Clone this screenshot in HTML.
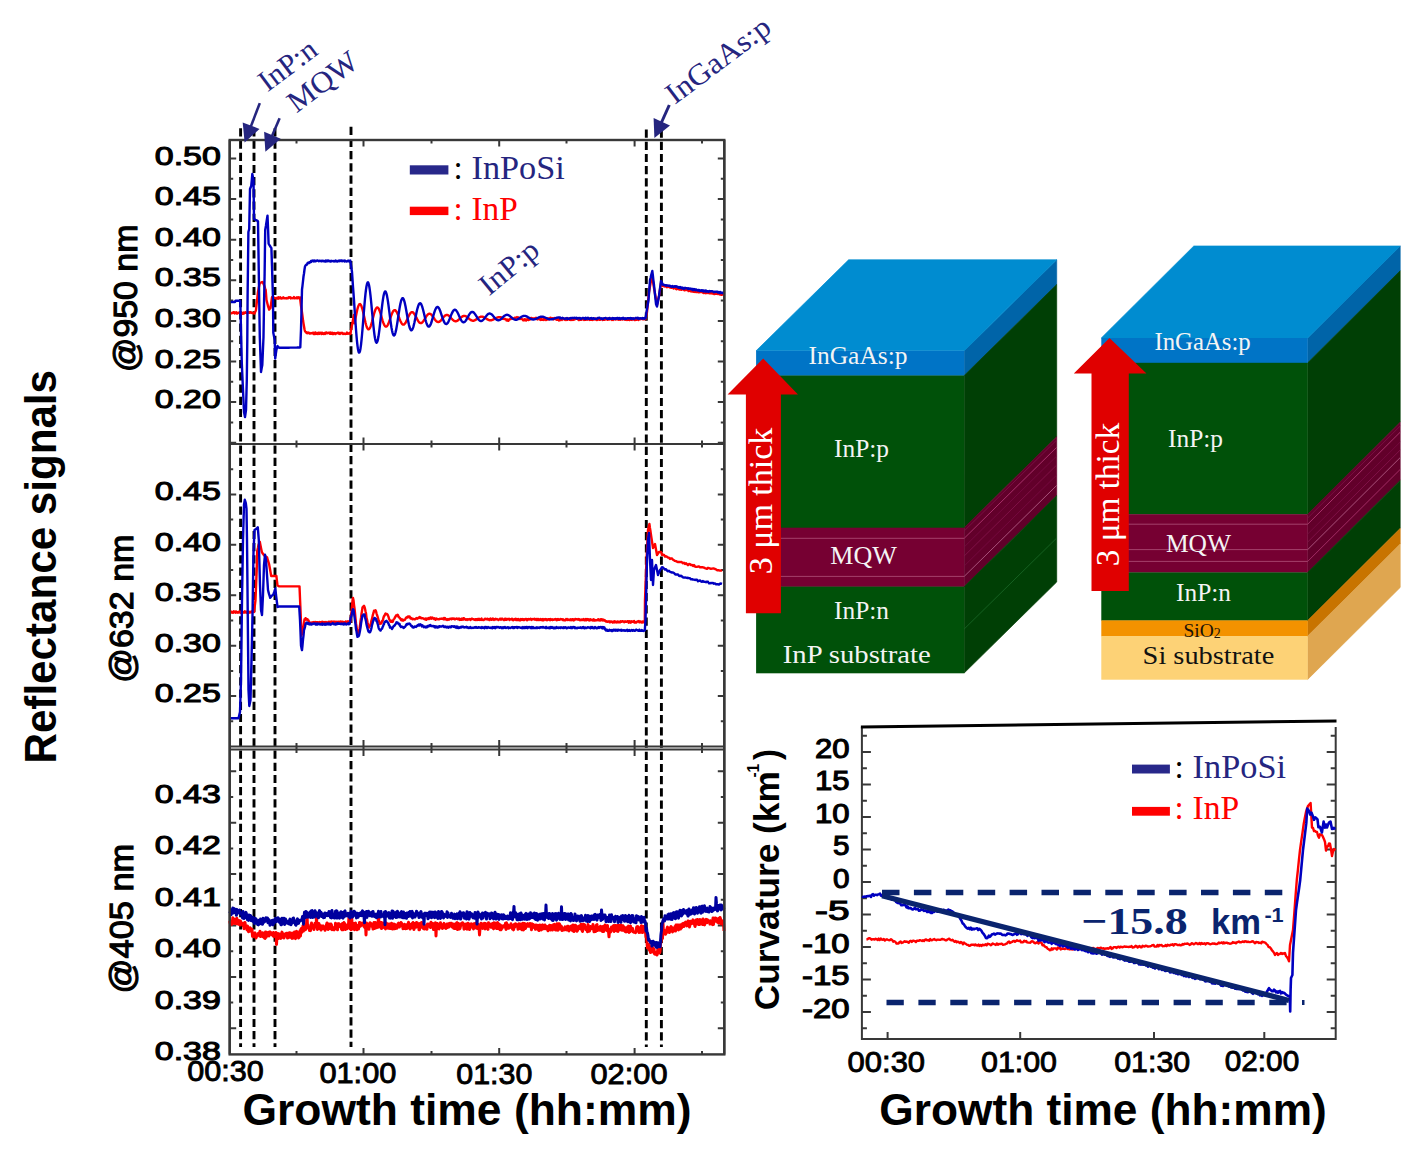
<!DOCTYPE html><html><head><meta charset="utf-8"><style>html,body{margin:0;padding:0;background:#fff;overflow:hidden;width:1426px;height:1157px;}svg{display:block}</style></head><body>
<svg width="1426" height="1157" viewBox="0 0 1426 1157">
<rect width="100%" height="100%" fill="#fff"/>
<line x1="240.6" y1="128.3" x2="240.6" y2="1047" stroke="#000" stroke-width="2.9" stroke-dasharray="8.2 4.0"/>
<line x1="254" y1="128.3" x2="254" y2="1047" stroke="#000" stroke-width="2.9" stroke-dasharray="8.2 4.0"/>
<line x1="275" y1="128.3" x2="275" y2="1047" stroke="#000" stroke-width="2.9" stroke-dasharray="8.2 4.0"/>
<line x1="351" y1="126.7" x2="351" y2="1047" stroke="#000" stroke-width="2.9" stroke-dasharray="8.2 4.0"/>
<line x1="646.3" y1="129.5" x2="646.3" y2="1047" stroke="#000" stroke-width="2.9" stroke-dasharray="8.2 4.0"/>
<line x1="661.4" y1="129.5" x2="661.4" y2="1047" stroke="#000" stroke-width="2.9" stroke-dasharray="8.2 4.0"/>
<path d="M229.7 158.5h6.5M724.3 158.5h-6.5M229.7 178.8h3.5M724.3 178.8h-3.5M229.7 199.1h6.5M724.3 199.1h-6.5M229.7 219.4h3.5M724.3 219.4h-3.5M229.7 239.7h6.5M724.3 239.7h-6.5M229.7 260h3.5M724.3 260h-3.5M229.7 280.3h6.5M724.3 280.3h-6.5M229.7 300.6h3.5M724.3 300.6h-3.5M229.7 320.9h6.5M724.3 320.9h-6.5M229.7 341.2h3.5M724.3 341.2h-3.5M229.7 361.5h6.5M724.3 361.5h-6.5M229.7 381.8h3.5M724.3 381.8h-3.5M229.7 402.1h6.5M724.3 402.1h-6.5M229.7 422.4h3.5M724.3 422.4h-3.5M229.7 442.7h6.5M724.3 442.7h-6.5M229.7 469.2h3.5M724.3 469.2h-3.5M229.7 494.4h6.5M724.3 494.4h-6.5M229.7 519.6h3.5M724.3 519.6h-3.5M229.7 544.8h6.5M724.3 544.8h-6.5M229.7 570h3.5M724.3 570h-3.5M229.7 595.3h6.5M724.3 595.3h-6.5M229.7 620.5h3.5M724.3 620.5h-3.5M229.7 645.7h6.5M724.3 645.7h-6.5M229.7 670.9h3.5M724.3 670.9h-3.5M229.7 696.1h6.5M724.3 696.1h-6.5M229.7 721.3h3.5M724.3 721.3h-3.5M229.7 771.3h6.5M724.3 771.3h-6.5M229.7 797h3.5M724.3 797h-3.5M229.7 822.7h6.5M724.3 822.7h-6.5M229.7 848.4h3.5M724.3 848.4h-3.5M229.7 874.1h6.5M724.3 874.1h-6.5M229.7 899.8h3.5M724.3 899.8h-3.5M229.7 925.5h6.5M724.3 925.5h-6.5M229.7 951.2h3.5M724.3 951.2h-3.5M229.7 976.9h6.5M724.3 976.9h-6.5M229.7 1002.6h3.5M724.3 1002.6h-3.5M229.7 1028.3h6.5M724.3 1028.3h-6.5M363.5 1054.4v-6.5M363.5 140v6.5M363.5 437.5v13M363.5 740v16M499.2 1054.4v-6.5M499.2 140v6.5M499.2 437.5v13M499.2 740v16M634.6 1054.4v-6.5M634.6 140v6.5M634.6 437.5v13M634.6 740v16M296.5 1054.4v-3.5M296.5 140v3.5M296.5 440.5v7M296.5 743v10M431.5 1054.4v-3.5M431.5 140v3.5M431.5 440.5v7M431.5 743v10M566.5 1054.4v-3.5M566.5 140v3.5M566.5 440.5v7M566.5 743v10M702 1054.4v-3.5M702 140v3.5M702 440.5v7M702 743v10" stroke="#383838" stroke-width="2" fill="none"/>
<rect x="229.7" y="140" width="494.6" height="914.4" fill="none" stroke="#383838" stroke-width="2.4"/>
<line x1="229.7" y1="444" x2="724.3" y2="444" stroke="#383838" stroke-width="2.2"/>
<line x1="229.7" y1="746.5" x2="724.3" y2="746.5" stroke="#383838" stroke-width="2"/>
<line x1="229.7" y1="749.5" x2="724.3" y2="749.5" stroke="#383838" stroke-width="2"/>
<g fill="none" stroke-width="2.4" stroke-linejoin="round">
<polyline points="229.7,313.8 230.2,312.7 230.7,313.5 231.2,313.3 231.7,313.2 232.2,312.8 232.7,312.8 233.2,312.3 233.7,312.4 234.2,312.3 234.7,313.4 235.2,312.6 235.7,312.5 236.2,312.3 236.7,313.5 237.2,313.6 237.7,313.3 238.2,312.7 238.7,312.6 239.2,312.7 239.7,312.9 240.2,312.5 240.7,312.9 241.2,312.6 241.8,313.7 242.3,313.8 242.8,313.1 243.3,312.6 243.8,313.7 244.3,312.7 244.8,312.8 245.3,312.2 245.8,312.8 246.3,313 246.8,313 247.3,312.5 247.8,313 248.3,312.2 248.8,312.6 249.3,312.3 249.8,312.8 250.3,312.3 250.8,312.2 251.3,312.7 251.8,312.6 252.3,313.1 252.8,313 253.4,313.2 253.9,313.3 254.5,313.5 255,312.3 255.5,311.2 256,310 256.8,302.3 257.4,297.1 258,292 258.5,289.3 259,286.7 259.5,284 260,283.5 260.5,283 261,282.5 261.5,282.3 262.1,282.2 262.6,282 263.3,283.5 264,285 264.6,286.7 265.1,288.3 265.7,290 266.5,300 267,302 267.5,304 268,306 268.6,307.8 269.1,309.6 269.8,308.8 270.5,308 271,304.4 271.5,300.9 272,297.3 272.5,297.4 273.1,297.5 273.6,297.7 274.2,297.8 274.7,297.9 275.2,298.3 275.7,298.2 276.2,298.2 276.7,298.5 277.2,297.7 277.7,297.6 278.2,298.7 278.7,297.3 279.3,298.3 279.8,298.1 280.3,297.2 280.8,298.4 281.3,298.5 281.8,298.1 282.3,298.3 282.8,298.4 283.3,297.3 283.8,297.9 284.3,297.9 284.8,298.4 285.3,298.4 285.8,298.4 286.3,298 286.8,298.5 287.4,298.2 287.9,298.2 288.4,297.5 288.9,297.1 289.4,297.3 289.9,297.7 290.4,297.3 290.9,298.4 291.4,298 291.9,298.1 292.4,298.1 292.9,298.2 293.4,297.9 293.9,297.1 294.4,298.4 294.9,298.3 295.4,297.9 296,298 296.5,298.2 297,297.2 297.5,298.3 298,297.5 298.5,297.2 299,297.5 299.5,298.3 300,297.4 300.5,301.8 301,305.8 301.5,308.7 302,312.3 302.5,316.2 303,320.3 303.5,323.4 304,326.2 304.5,329.2 305,331.3 305.5,331.7 306,332 306.5,333 307,332.6 307.5,333.2 308,332.5 308.5,332.6 309,332.9 309.5,333.6 310,333.6 310.5,333.6 311,333 311.5,333.3 312,333.2 312.5,333.2 313,332.7 313.5,333.9 314,332.8 314.5,334.1 315,334 315.5,332.5 316,333.2 316.5,333.8 317,334 317.5,333.2 318,332.9 318.5,332.8 319,334 319.5,332.8 320,333.4 320.5,332.7 321,333.3 321.5,334 322,332.7 322.5,333.8 323,333.3 323.5,333.9 324,333.6 324.5,332.9 325,333.9 325.5,333.3 326,332.5 326.5,332.5 327,333.3 327.5,333.2 328,333 328.5,332.7 329,333.1 329.5,333 330,333.8 330.5,332.5 331,333.7 331.5,333.8 332,332.7 332.5,334 333,333.6 333.5,333.9 334,333 334.5,333.1 335,333.1 335.5,334.1 336,333.4 336.5,333.1 337,333.2 337.5,332.9 338,332.6 338.5,332.7 339,333.8 339.5,333 340,334 340.5,332.9 341,332.9 341.5,333.3 342,332.8 342.5,333.1 343,334 343.5,333.9 344,333.8 344.5,333.5 345,334 345.5,334 346,333.4 346.5,333.7 347,332.6 347.5,333.7 348,333.2 348.5,333.7 349,333.5 349.5,333 350,332.6 350.5,334 351,329.9 351.5,327.7 352,325 352.5,322.5 353,320 353.5,317.5 354,315 354.5,323.4 355,320.9 355.5,318.3 356,315.7 356.5,313.2 357,310.9 357.5,308.8 358,307.1 358.5,305.7 359,304.7 359.5,304.2 360,304 360.5,304.4 361,305.1 361.5,306.3 362,307.8 362.5,309.5 363,311.5 363.5,313.7 364,316 364.5,318.3 365,320.5 365.5,322.6 366,324.5 366.5,326.1 367,327.5 367.5,328.5 368,329.1 368.5,329.4 369,329.2 369.5,328.7 370,327.9 370.5,326.7 371,325.3 371.5,323.6 372,321.8 372.5,319.8 373,317.9 373.5,315.9 374,314 374.5,312.3 375,310.8 375.5,309.5 376,308.5 376.5,307.9 377,307.5 377.5,307.5 378,307.8 378.5,308.4 379,309.4 379.5,310.5 380,311.9 380.5,313.5 381,315.1 381.5,316.9 382,318.6 382.5,320.3 383,321.8 383.5,323.2 384,324.4 384.5,325.4 385,326.1 385.5,326.5 386,326.7 386.5,326.5 387,326.1 387.5,325.4 388,324.5 388.5,323.3 389,322 389.5,320.6 390,319.1 390.5,317.6 391,316.2 391.5,314.8 392,313.5 392.5,312.4 393,311.5 393.5,310.8 394,310.3 394.5,310.1 395,310.1 395.5,310.4 396,311 396.5,311.7 397,312.6 397.5,313.7 398,314.9 398.5,316.2 399,317.5 399.5,318.8 400,320 400.5,321.2 401,322.2 401.5,323.1 402,323.8 402.5,324.3 403,324.6 403.5,324.6 404,324.5 404.5,324.1 405,323.5 405.5,322.8 406,321.9 406.5,320.9 407,319.9 407.5,318.7 408,317.6 408.5,316.5 409,315.5 409.5,314.5 410,313.7 410.5,313 411,312.5 411.5,312.2 412,312.1 412.5,312.2 413,312.4 413.5,312.9 414,313.5 414.5,314.2 415,315 415.5,315.9 416,316.9 416.5,317.9 417,318.9 417.5,319.8 418,320.7 418.5,321.5 419,322.1 419.5,322.6 420,322.9 420.5,323.1 421,323.1 421.5,323 422,322.7 422.5,322.2 423,321.6 423.5,321 424,320.2 424.5,319.4 425,318.5 425.5,317.7 426,316.8 426.5,316.1 427,315.4 427.5,314.8 428,314.3 428.5,314 429,313.7 429.5,313.7 430,313.8 430.5,314 431,314.3 431.5,314.8 432,315.4 432.5,316 433,316.7 433.5,317.5 434,318.2 434.5,319 435,319.7 435.5,320.3 436,320.9 436.5,321.3 437,321.7 437.5,321.9 438,322 438.5,322 439,321.9 439.5,321.6 440,321.3 440.5,320.8 441,320.3 441.5,319.7 442,319.1 442.5,318.4 443,317.8 443.5,317.2 444,316.6 444.5,316.1 445,315.6 445.5,315.3 446,315.1 446.5,314.9 447,314.9 447.5,315 448,315.2 448.5,315.5 449,315.8 449.5,316.3 450,316.8 450.5,317.3 451,317.9 451.5,318.5 452,319 452.5,319.6 453,320 453.5,320.4 454,320.8 454.5,321 455,321.2 455.5,321.3 456,321.2 456.5,321.1 457,320.9 457.5,320.6 458,320.3 458.5,319.8 459,319.4 459.5,318.9 460,318.4 460.5,317.9 461,317.5 461.5,317.1 462,316.7 462.5,316.4 463,316.1 463.5,316 464,315.9 464.5,315.9 465,316 465.5,316.1 466,316.3 466.5,316.6 467,317 467.5,317.4 468,317.8 468.5,318.2 469,318.7 469.5,319.1 470,319.5 470.5,319.8 471,320.1 471.5,320.4 472,320.5 472.5,320.7 473,320.7 473.5,320.7 474,320.6 474.5,320.4 475,320.2 475.5,319.9 476,319.6 476.5,319.2 477,318.8 477.5,318.5 478,318.1 478.5,317.8 479,317.5 479.5,317.2 480,317 480.5,316.8 481,316.7 481.5,316.6 482,316.6 482.5,316.7 483,316.9 483.5,317 484,317.3 484.5,317.5 485,317.8 485.5,318.2 486,318.5 486.5,318.8 487,319.1 487.5,319.4 488,319.7 488.5,319.9 489,320.1 489.5,320.2 490,320.3 490.5,320.3 491,320.3 491.5,320.2 492,320 492.5,319.9 493,319.6 493.5,319.4 494,319.1 494.5,318.9 495,318.6 495.5,318.3 496,318.1 496.5,317.8 497,317.6 497.5,317.5 498,317.3 498.5,317.3 499,317.2 499.5,317.3 500,317.3 500.5,317.2 501,317.3 501.5,318.2 502,318.7 502.5,317.8 503,318.7 503.5,318.4 504,319 504.5,319 505,318.9 505.5,319.1 506,319.3 506.5,320.5 507,320 507.5,319.6 508,320.7 508.5,320.8 509,319.8 509.5,319.2 510,319.2 510.5,318.9 511,319.1 511.5,318.5 512,318.5 512.5,318.3 513,318.6 513.5,318.9 514,318.5 514.5,317.9 515,317.7 515.5,317.8 516,317.6 516.5,317.5 517,317.1 517.5,317.5 518,318.7 518.5,317.4 519,318.2 519.5,318.5 520,319.1 520.5,318.3 521,318.5 521.5,318.7 522,319.1 522.5,319.3 523,320.3 523.5,320.2 524,320.4 524.5,319.1 525,319.1 525.5,320.2 526,320.5 526.5,319.7 527,319.8 527.5,318.8 528,319.3 528.5,320 529,319.7 529.5,319.6 530,319.6 530.5,318.3 531,317.9 531.5,317.9 532,318.4 532.5,318.5 533,318.9 533.5,318.5 534,318.4 534.5,318.6 535,318.2 535.5,318.4 536,317.7 536.5,319 537,318.2 537.5,319.4 538,319.2 538.5,318.8 539,318.6 539.5,318.9 540,319.7 540.5,319.9 541,319 541.5,319 542,319.8 542.5,319.9 543,319.6 543.5,319.3 544,319.9 544.5,318.8 545,319.2 545.5,319.4 546,320.1 546.5,319.5 547,319.7 547.5,318.9 548,318.5 548.5,318.4 549,319.4 549.5,318.9 550,318.2 550.5,317.7 551,318.5 551.5,318.8 552,318.4 552.5,318.2 553,318.9 553.5,319.4 554,318.4 554.5,318.1 555,318.7 555.5,319 556,319.5 556.5,318.8 557,319.9 557.5,319.9 558,319.6 558.5,319.2 559,320.5 559.5,319.4 560,320.3 560,318.8 560.5,318.8 561,319.6 561.5,318.9 562,319.9 562.5,319.2 563,318.7 563.5,318.8 564,319.1 564.5,319.5 565,319.9 565.5,318.6 566,319 566.5,318.7 567,320 567.5,318.6 568,318.5 568.5,318.5 569,319 569.5,319.8 570,319.8 570.5,319.6 571,320 571.5,319.9 572,318.9 572.5,318.7 573,319.9 573.5,319.6 574,318.5 574.5,319.5 575,319 575.5,319 576,318.9 576.5,318.7 577,318.4 577.5,318.8 578,319 578.5,319.9 579,318.6 579.5,319.9 580,318.7 580.5,319 581,319.7 581.5,319.7 582,319.1 582.5,318.5 583,319.2 583.5,319 584,319.9 584.5,318.7 585,319 585.5,319.8 586,318.4 586.5,319.1 587,319.7 587.5,319.6 588,318.5 588.5,318.5 589,318.5 589.5,319.9 590,318.8 590.5,319.6 591,319.8 591.5,318.9 592,318.8 592.5,319.9 593,319.4 593.5,318.8 594,319.5 594.5,318.9 595,318.8 595.5,318.4 596,319.6 596.5,319.9 597,319.4 597.5,319.9 598,318.4 598.5,318.8 599,319.2 599.5,319.9 600,319.9 600.5,319 601,318.8 601.5,319.1 602,319.2 602.5,319.9 603,318.7 603.5,319.7 604,319.6 604.5,319.7 605,319.6 605.5,319.4 606,318.9 606.5,318.9 607,319 607.5,319.7 608,318.5 608.5,318.7 609,319.6 609.5,318.8 610,318.5 610.5,318.5 611,319.3 611.5,318.9 612,320 612.5,319.8 613,320 613.5,318.8 614,318.5 614.5,318.6 615,319.2 615.5,319.5 616,319.1 616.5,318.8 617,319.1 617.5,319.4 618,319.5 618.5,319.6 619,319.8 619.5,319.5 620,318.6 620.5,319.7 621,318.9 621.5,319.3 622,319 622.5,319.6 623,318.7 623.5,318.8 624,318.8 624.5,318.6 625,319.8 625.5,319.3 626,318.9 626.5,319 627,320 627.5,319.2 628,318.8 628.5,319.7 629,319.4 629.5,320 630,318.6 630.5,319.2 631,319.7 631.5,319.7 632,319.9 632.5,318.5 633,318.9 633.5,318.6 634,318.7 634.5,320 635,319.3 635.5,319.9 636,319 636.5,319.8 637,319.1 637.5,318.8 638,319.6 638.5,319.9 639,318.6 639.5,319.4 640,319.4 640.5,318.7 641,319 641.5,318.6 642,318.7 642.5,318.8 643,319.4 643.5,319.4 644,318.7 644.5,318.4 645,319.2 645.5,319.2 646,316.8 646.5,314.4 647,312 647.5,307 648,302 648.5,297 649,292 649.5,289.2 650,286.3 650.5,283.5 651,280.7 651.5,277.8 652,275 652.5,278.2 653,281.5 653.5,284.8 654,288 654.5,290.8 655,293.7 655.5,296.5 656,299.3 656.5,302.2 657,305 657.5,302.8 658,300.5 658.5,298.2 659,296 659.5,292.8 660,289.5 660.5,286.2 661,283 661.5,283.8 662,284.5 662.5,285.2 663,286 663.5,286.1 664,286.2 664.5,286 665,286.6 665.5,285.9 666,286.2 666.5,286.1 667,287.2 667.5,286.9 668,286.2 668.5,286.3 669,286.9 669.5,287.2 670,287.5 670.5,286.7 671,286.9 671.5,287.8 672,287.4 672.5,287.3 673,287.5 673.5,288.6 674,287.6 674.5,288.1 675,287.9 675.5,288.1 676,288.9 676.5,289.2 677,288.3 677.5,288.1 678,289 678.5,288.3 679,288 679.5,289.6 680,288.9 680.5,289.6 681,289 681.5,289.8 682,289.2 682.5,288.8 683,288.7 683.5,289.6 684,289.8 684.5,290.3 685,289.1 685.5,290 686,289.7 686.5,290 687,289.5 687.5,289.8 688,290.2 688.5,291 689,289.7 689.5,290.4 690,291 690.5,291.3 691,290.2 691.5,290.1 692,291.5 692.5,291.6 693,290.9 693.5,290.3 694,291.8 694.5,291 695,291.9 695.5,291.5 696,291.9 696.5,290.9 697,292 697.5,291.2 698,291.5 698.5,292.3 699,292.4 699.5,291.4 700,291.5 700.5,291.9 701,292.1 701.5,292 702,291.6 702.5,291.9 703,292.7 703.5,293 704,291.7 704.5,292.6 705,293 705.5,291.9 706,293.2 706.5,292.1 707,292.9 707.5,292.9 708,293.1 708.5,292.6 709,292.9 709.5,293.2 710,293 710.5,293.4 711,293.2 711.5,293.2 712,292.6 712.5,293.6 713,293.4 713.5,293.1 714,294 714.5,294.1 715,293.6 715.5,293.2 716,293.8 716.5,293.2 717,293.3 717.5,293.9 718,293.4 718.5,294 719,294.2 719.5,293.5 720,294.5 720.5,293.6 721,294.7 721.5,294.9 722,294.5 722.5,293.8 723,294.6 723.5,294.4 724,295.4" stroke="#ff0000"/>
<polyline points="229.7,302 230.2,302 230.8,302 231.3,302 231.8,302 232.3,302 232.9,302 233.4,302 233.9,302 234.5,302 235,302 235.5,300.7 236,300.7 236.6,300.7 237.1,300.7 237.6,300.7 238.2,300.7 238.7,300.7 239.2,300.7 239.8,300.7 240.3,300.7 241,330 241.8,363 242.4,376.5 243,390 243.5,401 244,412 244.5,414.5 245,417 245.5,413.5 246,410 246.8,380 247.3,340 247.6,296 248.4,232 249.2,229 250,189 250.6,187.5 251.2,186 251.8,180 252.3,174 252.9,177 253.5,180 254,219 254.5,219.2 255,219.5 255.5,219.8 256,220 256.5,220.3 257,220.6 257.5,220.9 258,221.2 258.6,260 259.2,300 259.8,337 260.4,354.5 261,372 261.6,368.5 262.3,365 262.9,351 263.5,337 264.1,300 264.6,275 265.2,230 265.9,226 266.5,222 267,218.8 267.5,215.6 268.1,229.6 268.6,243.7 269.3,244.8 270,246 270.7,247.1 271.4,248.2 272,266 272.5,283 273,300 273.3,332.7 274,336.4 274.7,340 275.2,358.5 275.8,354.2 276.4,350 276.9,348.1 277.5,346.1 278,346.7 278.5,347.2 279,347.8 279.5,347.8 280,347.8 280.5,347.8 281,347.8 281.5,347.8 282,347.8 282.6,347.8 283.1,347.7 283.6,347.7 284.1,347.7 284.6,347.7 285.1,347.7 285.6,347.7 286.1,347.7 286.6,347.7 287.1,347.7 287.6,347.7 288.1,347.7 288.6,347.7 289.1,347.7 289.6,347.6 290.2,347.6 290.7,347.6 291.2,347.6 291.7,347.6 292.2,347.6 292.7,347.6 293.2,347.6 293.7,347.6 294.2,347.6 294.7,347.6 295.2,347.6 295.7,347.6 296.2,347.6 296.8,347.6 297.3,347.5 297.8,347.5 298.3,347.5 298.8,347.5 299.3,347.5 299.8,347.5 300.3,347.3 301,329.6 301.5,310.2 302,289.5 302.5,285.7 303,281.2 303.5,276.5 304,273.5 304.5,269.5 305,266.5 305.5,265.5 306,264.9 306.5,264.7 307,264.6 307.5,263.1 308,262.7 308.5,262.9 309,263 309.5,262.3 310,261.9 310.5,262.3 311,261 311.5,261.7 312,260.7 312.5,260.6 313,260.5 313.5,260.8 314,261.4 314.5,260.6 315,261.1 315.5,261.2 316,260.8 316.5,261.1 317,260.5 317.5,260.5 318,260.6 318.6,261.2 319.1,260.9 319.6,260.8 320.1,261.1 320.6,260.9 321.1,260.8 321.6,261.4 322.1,261.2 322.6,260.7 323.1,261.1 323.6,261 324.1,261.5 324.6,261.3 325.1,260.7 325.6,261.6 326.1,260.5 326.6,260.9 327.1,261.3 327.6,260.6 328.1,261 328.6,260.4 329.1,261.2 329.6,261.3 330.1,261.1 330.6,261.5 331.1,260.8 331.7,261.2 332.2,261.1 332.7,261.1 333.2,260.9 333.7,261.4 334.2,261.5 334.7,261 335.2,261.2 335.7,260.5 336.2,261.2 336.7,261.2 337.2,261.6 337.7,261.4 338.2,260.7 338.7,260.9 339.2,261.2 339.7,260.4 340.2,261 340.7,260.6 341.2,260.5 341.7,260.5 342.2,261.3 342.7,260.6 343.2,260.7 343.7,260.9 344.3,261.4 344.8,260.5 345.3,260.9 345.8,261.1 346.3,261.5 346.8,261.4 347.3,261.4 347.8,260.7 348.3,260.9 348.8,260.8 349.3,261.5 349.8,261.5 350.3,260.6 350.9,264.3 351.4,268 352,272 353,286.9 353.5,293.4 354,300.4 354.5,307.8 355,315.3 355.5,322.6 356,329.5 356.5,335.8 357,341.3 357.5,345.8 358,349.3 358.5,351.6 359,352.6 359.5,352.4 360,351 360.5,348.4 361,344.8 361.5,340.2 362,335 362.5,329.1 363,323 363.5,316.6 364,310.3 364.5,304.3 365,298.7 365.5,293.7 366,289.5 366.5,286.2 367,283.9 367.5,282.6 368,282.3 368.5,283.2 369,285 369.5,287.8 370,291.4 370.5,295.6 371,300.5 371.5,305.7 372,311.1 372.5,316.5 373,321.8 373.5,326.7 374,331.2 374.5,335.1 375,338.3 375.5,340.6 376,342.1 376.5,342.7 377,342.3 377.5,341.1 378,339.1 378.5,336.3 379,332.9 379.5,329 380,324.7 380.5,320.1 381,315.5 381.5,310.9 382,306.6 382.5,302.6 383,299.1 383.5,296.1 384,293.9 384.5,292.3 385,291.5 385.5,291.5 386,292.3 386.5,293.8 387,295.9 387.5,298.6 388,301.8 388.5,305.4 389,309.3 389.5,313.2 390,317.2 390.5,321 391,324.5 391.5,327.7 392,330.4 392.5,332.6 393,334.2 393.5,335.2 394,335.5 394.5,335.1 395,334.1 395.5,332.5 396,330.4 396.5,327.8 397,324.9 397.5,321.7 398,318.4 398.5,315 399,311.7 399.5,308.6 400,305.8 400.5,303.3 401,301.2 401.5,299.7 402,298.7 402.5,298.2 403,298.3 403.5,299 404,300.2 404.5,301.8 405,303.9 405.5,306.3 406,308.9 406.5,311.8 407,314.7 407.5,317.5 408,320.3 408.5,322.8 409,325.1 409.5,327 410,328.5 410.5,329.6 411,330.2 411.5,330.3 412,329.9 412.5,329.1 413,327.9 413.5,326.3 414,324.3 414.5,322.2 415,319.8 415.5,317.4 416,315 416.5,312.6 417,310.3 417.5,308.3 418,306.6 418.5,305.2 419,304.1 419.5,303.5 420,303.2 420.5,303.4 421,303.9 421.5,304.9 422,306.1 422.5,307.7 423,309.5 423.5,311.5 424,313.5 424.5,315.6 425,317.7 425.5,319.7 426,321.5 426.5,323.1 427,324.5 427.5,325.5 428,326.2 428.5,326.6 429,326.6 429.5,326.3 430,325.6 430.5,324.7 431,323.5 431.5,322 432,320.4 432.5,318.7 433,316.9 433.5,315.1 434,313.4 434.5,311.8 435,310.4 435.5,309.2 436,308.2 436.5,307.5 437,307.1 437.5,306.9 438,307.1 438.5,307.6 439,308.3 439.5,309.3 440,310.5 440.5,311.8 441,313.3 441.5,314.8 442,316.3 442.5,317.8 443,319.3 443.5,320.6 444,321.7 444.5,322.6 445,323.4 445.5,323.8 446,324 446.5,324 447,323.7 447.5,323.2 448,322.5 448.5,321.6 449,320.5 449.5,319.3 450,318 450.5,316.7 451,315.4 451.5,314.2 452,313.1 452.5,312.1 453,311.2 453.5,310.5 454,310.1 454.5,309.8 455,309.8 455.5,309.9 456,310.3 456.5,310.9 457,311.6 457.5,312.5 458,313.5 458.5,314.6 459,315.7 459.5,316.8 460,317.9 460.5,319 461,319.9 461.5,320.7 462,321.3 462.5,321.8 463,322.1 463.5,322.3 464,322.2 464.5,322 465,321.6 465.5,321 466,320.3 466.5,319.5 467,318.6 467.5,317.7 468,316.8 468.5,315.8 469,314.9 469.5,314.1 470,313.4 470.5,312.8 471,312.4 471.5,312.1 472,311.9 472.5,311.9 473,312.1 473.5,312.4 474,312.8 474.5,313.4 475,314.1 475.5,314.8 476,315.6 476.5,316.4 477,317.2 477.5,318 478,318.8 478.5,319.4 479,320 479.5,320.5 480,320.8 480.5,321 481,321.1 481.5,321 482,320.8 482.5,320.5 483,320 483.5,319.5 484,318.9 484.5,318.3 485,317.6 485.5,316.9 486,316.3 486.5,315.6 487,315.1 487.5,314.5 488,314.1 488.5,313.8 489,313.6 489.5,313.5 490,313.6 490.5,313.7 491,314 491.5,314.3 492,314.7 492.5,315.2 493,315.8 493.5,316.4 494,317 494.5,317.6 495,318.1 495.5,318.7 496,319.1 496.5,319.6 497,319.9 497.5,320.1 498,320.2 498.5,320.3 499,320.2 499.5,320 500,319.8 500.5,319.5 501,319.1 501.5,318.6 502,318.2 502.5,317.7 503,317.2 503.5,316.7 504,316.2 504.5,315.8 505,315.5 505.5,315.2 506,315 506.5,314.9 507,314.8 507.5,314.9 508,315 508.5,315.2 509,315.5 509.5,315.8 510,316.2 510.5,316.6 511,317 511.5,317.4 512,317.9 512.5,318.3 513,318.7 513.5,319 514,319.3 514.5,319.5 515,319.7 515.5,319.8 516,319.8 516.5,319.7 517,319.6 517.5,319.4 518,319.1 518.5,318.9 519,318.5 519.5,318.2 520,317.8 520.5,317.5 521,317.1 521.5,316.8 522,316.5 522.5,316.3 523,316.1 523.5,315.9 524,315.9 524.5,315.9 525,315.9 525.5,316 526,316.2 526.5,316.4 527,316.6 527.5,316.9 528,317.2 528.5,317.5 529,317.8 529.5,318.2 530,318.5 530.5,318.7 531,319 531.5,319.2 532,319.3 532.5,319.4 533,319.5 533.5,319.5 534,319.4 534.5,319.3 535,319.2 535.5,319 536,318.8 536.5,318.6 537,318.3 537.5,318.1 538,317.8 538.5,317.6 539,317.3 539.5,317.1 540,317 540.5,316.8 541,316.7 541.5,316.7 542,316.7 542.5,316.7 543,316.8 543.5,316.9 544,317.1 544.5,317.3 545,317.5 545.5,317.7 546,318 546.5,318.2 547,318.4 547.5,318.7 548,318.9 548.5,319 549,319.2 549.5,319.3 550,319.4 550.5,319.4 551,319.4 551.5,319.3 552,319.3 552.5,319.2 553,319 553.5,318.9 554,318.7 554.5,318.5 555,318.3 555.5,318.1 556,318 556.5,317.8 557,317.7 557.5,317.6 558,317.5 558.5,317.4 559,317.4 559.5,317.4 560,317.4 560,318.4 560.5,318.1 561,318.4 561.5,318.5 562,318.1 562.5,317.8 563,318.3 563.5,318.2 564,318.5 564.5,318.9 565,318.6 565.5,318.4 566,318.5 566.5,318.6 567,317.9 567.5,318.9 568,318.7 568.5,318.8 569,318.8 569.5,318.3 570,318.3 570.5,317.9 571,318.6 571.5,317.9 572,317.9 572.5,318.1 573,318 573.5,318.2 574,317.9 574.5,317.8 575,318 575.5,317.9 576,318.2 576.5,317.8 577,318.8 577.5,318.5 578,318 578.5,318.1 579,318.2 579.5,318.2 580,317.9 580.5,318.8 581,319 581.5,318.4 582,318.4 582.5,317.9 583,317.9 583.5,318.2 584,318.1 584.5,318.8 585,318 585.5,317.8 586,318.9 586.5,318.4 587,318 587.5,318.5 588,317.8 588.5,318.4 589,319 589.5,318.8 590,318.6 590.5,318.1 591,318.2 591.5,318 592,318.7 592.5,318.4 593,318.7 593.5,318.2 594,318.1 594.5,318.8 595,319 595.5,318.8 596,318.8 596.5,318.8 597,318.7 597.5,318.1 598,318.4 598.5,318.2 599,317.8 599.5,317.8 600,318.1 600.5,318.1 601,318.6 601.5,318.9 602,318.3 602.5,318.9 603,319 603.5,318.9 604,318.2 604.5,318.1 605,318.1 605.5,318 606,318 606.5,318.5 607,318.9 607.5,318.8 608,318.4 608.5,318.6 609,318.8 609.5,317.9 610,318.6 610.5,318.9 611,318.7 611.5,318.7 612,318.4 612.5,318 613,318.7 613.5,318.2 614,318.8 614.5,319 615,318.3 615.5,318.3 616,318.9 616.5,318.7 617,318 617.5,318 618,318 618.5,318.9 619,318.8 619.5,318 620,318.8 620.5,319 621,318.6 621.5,318.2 622,318.5 622.5,318 623,317.8 623.5,319 624,318.6 624.5,318.4 625,318.9 625.5,318.3 626,318.8 626.5,318.8 627,318.1 627.5,318.1 628,318.2 628.5,318.1 629,318.5 629.5,318.1 630,318.3 630.5,318 631,318.9 631.5,318.2 632,318.3 632.5,318.5 633,318.9 633.5,318.3 634,318.9 634.5,318.4 635,318.4 635.5,318.4 636,317.8 636.5,318.3 637,318 637.5,317.8 638,318.8 638.5,318 639,318.4 639.5,318.7 640,318.5 640.5,318.2 641,318.4 641.5,318.5 642,318.7 642.5,317.9 643,318.5 643.5,318.1 644,318.1 644.5,318.7 645,318.4 645.5,318.4 646,315.2 646.5,312 647,309 647.5,306 648,303 648.5,300 649,293.3 649.5,286.7 650,280 650.6,277.8 651.1,275.5 651.7,273.2 652.3,271 652.9,275.7 653.4,280.3 654,285 654.5,289.8 655,294.5 655.5,299.2 656,304 656.5,305.3 657,306.6 657.5,304 658,301.3 658.5,298.6 659,296 659.5,292.2 660,288.5 660.5,284.8 661,281 661.5,281.9 662,282.9 662.5,283.8 663,284.7 663.5,284.8 664,284.9 664.5,285 665,285.1 665.5,285.4 666,285.7 666.5,285.2 667,285.5 667.5,285.4 668,285.5 668.5,285.8 669,285.6 669.5,285.8 670,285.8 670.5,286.5 671,286.3 671.5,286.6 672,286.7 672.5,286 673,286.4 673.5,287 674,286.9 674.5,286.2 675,286.2 675.5,286.7 676,286.3 676.5,286.6 677,286.5 677.5,287.3 678,287.5 678.5,287.7 679,286.9 679.5,287.7 680,287.7 680.5,287.1 681,288.1 681.5,288.3 682,287.5 682.5,288.4 683,287.8 683.5,288 684,288.7 684.5,288.6 685,287.8 685.5,288.2 686,288.4 686.5,288.3 687,288.2 687.5,288.4 688,289 688.5,288.2 689,288.9 689.5,288.9 690,288.4 690.5,288.9 691,289.3 691.5,289.2 692,288.8 692.5,290 693,289.8 693.5,290.1 694,289.1 694.5,289.4 695,289.2 695.5,290.2 696,289.6 696.5,289.5 697,290 697.5,290.6 698,290.6 698.5,290 699,289.9 699.5,290.9 700,290.6 700.5,290.8 701,290.1 701.5,290.1 702,290.9 702.5,290.7 703,290.3 703.5,291.4 704,291.1 704.5,291.3 705,290.5 705.5,291.5 706,290.6 706.5,291.6 707,291.1 707.5,291.1 708,291.4 708.5,291.9 709,291.1 709.5,291 710,291.5 710.5,291.2 711,291.1 711.5,291.2 712,291.2 712.5,291.4 713,291.6 713.5,291.6 714,292.2 714.5,291.7 715,292 715.5,291.7 716,291.9 716.5,291.6 717,291.9 717.5,291.7 718,292.6 718.5,292.4 719,292 719.5,292.4 720,293 720.5,292.1 721,293 721.5,292.6 722,292.7 722.5,293.2 723,292.7 723.5,292.9 724,293.1" stroke="#0000c0"/>
</g>
<g fill="none" stroke-width="2.4" stroke-linejoin="round">
<polyline points="229.7,611.5 230.2,611.3 230.7,611.3 231.2,612.1 231.7,612.6 232.2,611.9 232.7,612.7 233.2,612.7 233.8,611.3 234.3,612.2 234.8,611.8 235.3,611.4 235.8,612.7 236.3,611.6 236.8,612.1 237.3,612.2 237.8,612.7 238.3,612.3 238.8,611.8 239.3,611.9 239.8,611.5 240.3,612.7 240.8,612.8 241.3,611.6 241.8,611.3 242.4,611.6 242.9,611.8 243.4,612.6 243.9,612.6 244.4,612.5 244.9,611.3 245.4,612.5 245.9,612.3 246.4,612.2 246.9,612.8 247.4,611.3 247.9,611.4 248.4,612.4 248.9,612.7 249.4,612.3 249.9,611.7 250.5,612.1 251,612.4 251.5,611.4 252,611.7 252.5,611.6 253,611.4 253.5,612 254,612 254.5,608 255,604 255.5,600 256.1,585 256.7,570 257.2,551 257.9,548 258.5,545 259.1,543.4 259.8,541.8 260.4,544.9 261,548 261.9,552.2 262.4,553 262.9,553.8 263.5,554.5 264,555.3 264.5,555.6 265,556 265.6,556.3 266.1,556.7 266.6,557 267.1,557.4 267.6,559.2 268.1,561 268.7,562.8 269.2,564.6 269.7,567.5 270.2,570.3 270.7,573.1 271.2,576 271.7,576 272.2,576 272.8,576 273.3,576 273.8,576 274.3,576 274.8,576 275.4,576 275.9,576 276.4,576 276.9,580.6 277.5,585.3 278,585.7 278.5,586 279,586.4 279.5,586.4 280,586.4 280.5,586.4 281,586.4 281.5,586.4 282,586.4 282.5,586.4 283,586.4 283.5,586.4 284,586.4 284.5,586.4 285,586.4 285.5,586.4 286,586.4 286.5,586.4 287,586.4 287.5,586.4 288,586.4 288.5,586.4 289,586.4 289.5,586.4 290,586.4 290.5,586.4 291,586.4 291.5,586.4 292,586.4 292.5,586.4 293,586.4 293.5,586.4 294,586.4 294.5,586.4 295,586.4 295.5,586.4 296,586.4 296.5,586.4 297,586.4 297.5,586.4 298,586.4 298.5,586.4 299,586.4 299.5,586.4 300,598.2 300.5,610 301,622.5 301.5,635.6 302,633.4 302.5,632.3 303,629.2 303.5,627 304,622.8 304.5,619.3 305,620 305.5,618.2 306,618.7 306.5,619.2 307,619.8 307.5,619.2 308,620.3 308.5,620.4 309,622.3 309.5,622.7 310,623 310.5,622.7 311,622.5 311.5,623.3 312,622.7 312.5,623 313,622.2 313.5,622.3 314,622 314.5,623.1 315,622.8 315.5,622.1 316,623.3 316.5,622.3 317,622.5 317.5,622.1 318,622.3 318.5,623.2 319,622.4 319.5,622.1 320,622.6 320.5,622.3 321,623.2 321.5,622 322,623.3 322.5,621.8 323,623.2 323.5,622.8 324,622.1 324.5,622.5 325,622.2 325.5,622.1 326,622 326.5,622.3 327,623.2 327.5,623.3 328,623.1 328.5,621.8 329,622.1 329.5,623 330,621.7 330.5,622.8 331,622.1 331.5,623.1 332,621.6 332.5,622.8 333,622.1 333.5,621.8 334,621.5 334.5,622.8 335,622.3 335.5,621.8 336,622.2 336.5,622.9 337,621.8 337.5,622.4 338,621.7 338.5,621.7 339,622.7 339.5,622.6 340,621.7 340.5,621.5 341,621.5 341.5,622.4 342,622.2 342.5,621.8 343,621.7 343.5,622.3 344,622.5 344.5,622.6 345,622.2 345.5,621.6 346,621.4 346.5,622.5 347,621.9 347.5,622.4 348,621.3 348.5,622.5 349,621.8 349.5,622.6 350,622.6 350.5,622 351,615.5 351.6,611.3 352.1,604.9 352.6,599.9 353,598 353.5,600.2 354,604.8 354.5,608.4 355,613 355.5,618.3 356,623.4 356.5,626.5 357,630.4 357.5,632.3 358,633.2 358.5,632.1 359,631.4 359.5,629 360,625.8 360.5,621.2 361,618 361.5,613.7 362,611.1 362.5,607.4 363,607 363.5,606.3 364,605.8 364.5,606.9 365,608.8 365.5,611.3 366,613.3 366.5,617.8 367,619.6 367.5,622.2 368,624.2 368.5,625.9 369,627.6 369.5,626.3 370,625.7 370.5,625.4 371,622.7 371.5,620.3 372,618.9 372.5,616.5 373,614.4 373.5,612.9 374,610.7 374.5,611.2 375,610.9 375.5,610.2 376,611.3 376.5,613.3 377,615 377.5,616.4 378,618 378.5,620.1 379,621.1 379.5,622.9 380,624 380.5,623 381,623.5 381.5,623.1 382,621.2 382.5,621 383,619.8 383.5,617.5 384,616.2 384.5,615.7 385,614.4 385.5,613.6 386,614.3 386.5,614.1 387,613.9 387.5,614.5 388,615.6 388.5,616.8 389,618.8 389.5,619.6 390,620.7 390.5,621.3 391,621.8 391.5,620.8 392,621.5 392.5,621.9 393,621.3 393.5,619.5 394,619 394.5,618.5 395,617.2 395.5,616.8 396,615.4 396.5,615.6 397,615.5 397.5,614.7 398,615.1 398.5,616.8 399,617.1 399.5,617.9 400,618.1 400.5,619.1 401,619.8 401.5,620.3 402,619.3 402.5,620.5 403,619.9 403.5,620.5 404,619.6 404.5,619.6 405,619.8 405.5,618.8 406,617.7 406.5,617.6 407,617.1 407.5,617.6 408,616.4 408.5,616.4 409,617 409.5,616.4 410,617.4 410.5,618.4 411,618 411.5,618.1 412,618.8 412.5,619.2 413,618.8 413.5,619 414,619.1 414.5,619.3 415,619.3 415.5,618.9 416,618.6 416.5,618.1 417,618.5 417.5,618.7 418,618.1 418.5,617.8 419,617.8 419.5,617 420,617.9 420.5,617.5 421,617.8 421.5,618.2 422,618.2 422.5,618.2 423,618.3 423.5,618.5 424,619.1 424.5,619 425,619.4 425.5,618.5 426,619 426.5,619.7 427,618.6 427.5,618.9 428,618.7 428.5,618.1 429,619.1 429.5,617.9 430,618.5 430.5,617.5 431,617.4 431.5,618.7 432,618.1 432.5,617.6 433,618.3 433.5,618.5 434,619.1 434.5,618.3 435,618.6 435.5,619.8 436,619.5 436.5,618.6 437,618.9 437.5,618.9 438,619.3 438.5,619.1 439,619.4 439.5,619.2 440,618.7 440.5,618.9 441,618.9 441.5,618.9 442,618.4 442.5,618.9 443,618.8 443.5,619.2 444,618.1 444.5,619.3 445,618 445.5,619.4 446,619.1 446.5,619.1 447,619.9 447.5,619.3 448,619 448.5,619.6 449,619.7 449.5,619.2 450,618.8 450.5,618.9 451,618.8 451.5,619.2 452,618.4 452.5,618.6 453,618.8 453.5,618.6 454,618.5 454.5,619.3 455,619.4 455.5,618.9 456,618.9 456.5,618.5 457,618.8 457.5,618.6 458,619.3 458.5,619.3 459,618.5 459.5,619.9 460,618.9 460.5,619.7 461,619.7 461.5,619.8 462,618.6 462.5,618.9 463,619.7 463.5,618.2 464,618.3 464.5,619.1 465,619 465.5,619.7 466,619.5 466.5,619.2 467,619.9 467.5,619.2 468,619.2 468.5,619.5 469,619.1 469.5,619.1 470,619.5 470,619 470.5,619.9 471,619.5 471.5,619.2 472,618.6 472.5,619 473,619.1 473.5,619.3 474,619.3 474.5,619.8 475,620 475.5,619.2 476,619.1 476.5,619.4 477,620 477.5,619 478,619.3 478.5,619.7 479,618.7 479.5,619 480,620 480.5,619.8 481,619.3 481.5,618.6 482,619.9 482.5,619.6 483,619.8 483.5,620.1 484,619.9 484.5,619.1 485,618.7 485.5,618.9 486,619.3 486.5,619.3 487,618.8 487.5,618.8 488,619.5 488.5,619.5 489,619.1 489.5,620.1 490,619.5 490.5,618.6 491,619.2 491.5,619.8 492,619 492.5,619.6 493,618.5 493.5,619 494,619.9 494.5,619.5 495,619.6 495.5,618.8 496,619.3 496.5,619.4 497,619 497.5,619.6 498,619.4 498.5,620.1 499,619.5 499.5,619.2 500,618.8 500.5,618.8 501,619.8 501.5,618.7 502,618.7 502.5,618.8 503,619.4 503.5,619.9 504,619.6 504.5,619.9 505,618.7 505.5,618.6 506,619.8 506.5,619.1 507,619.7 507.5,619.2 508,618.9 508.5,619 509,618.8 509.5,620.1 510,619.5 510.5,619.2 511,619.3 511.5,619.2 512,618.7 512.5,620 513,619.6 513.5,620.2 514,619.3 514.5,619.6 515,619 515.5,618.7 516,620.1 516.5,620 517,619.1 517.5,620.1 518,620 518.5,619.1 519,619.6 519.5,620.2 520,619.5 520.5,620.2 521,619.1 521.5,619.3 522,619.8 522.5,619 523,619.2 523.5,620.1 524,619.5 524.5,620 525,619.1 525.5,619 526,619.3 526.5,619 527,620.3 527.5,619.2 528,619.6 528.5,618.9 529,619.6 529.5,619.3 530,619.4 530.5,618.8 531,618.9 531.5,620 532,619.3 532.5,619.1 533,619 533.5,619.2 534,619.1 534.5,618.8 535,619.8 535.5,619.3 536,619 536.5,619.9 537,618.9 537.6,619.2 538.1,620.1 538.6,619 539.1,619.5 539.6,620.1 540.1,620.1 540.6,619 541.1,619.3 541.6,619.9 542.1,619.4 542.6,620.3 543.1,619.1 543.6,620.3 544.1,619.6 544.6,619.2 545.1,619.5 545.6,619 546.1,619.9 546.6,619.2 547.1,620.2 547.6,619.7 548.1,619.4 548.6,619.2 549.1,619.8 549.6,619.2 550.1,620.2 550.6,619 551.1,619.6 551.6,619.7 552.1,619.3 552.6,620.1 553.1,619.4 553.6,619.9 554.1,619.7 554.6,619.3 555.1,619.5 555.6,619 556.1,619.1 556.6,620.2 557.1,619.4 557.6,619.9 558.1,619 558.6,619.8 559.1,619.4 559.6,619.7 560.1,619.3 560.6,619 561.1,619.4 561.6,619.2 562.1,619.1 562.6,620 563.1,619.3 563.6,619.5 564.1,620.3 564.6,620.1 565.1,620.3 565.6,620.3 566.1,619.1 566.6,619.3 567.1,619 567.6,620 568.1,620 568.6,619.5 569.1,619.6 569.6,620 570.1,620 570.6,619.3 571.1,620.3 571.6,619.5 572.1,619.9 572.6,619.2 573.1,619.1 573.6,620.4 574.1,620.1 574.6,620.1 575.1,619 575.6,619 576.1,619.2 576.6,619.3 577.1,619.4 577.6,619.6 578.1,619 578.6,619.5 579.1,620 579.6,619.3 580.1,620.3 580.6,619.9 581.1,620.1 581.6,619.4 582.1,619.7 582.6,620.1 583.1,619.5 583.6,619 584.1,620.3 584.6,620.2 585.1,619.5 585.6,619.1 586.1,620.4 586.6,620 587.1,619.1 587.6,619.4 588.1,619.2 588.6,620.3 589.1,619.4 589.6,620.5 590.1,620.2 590.6,619.2 591.1,620.1 591.6,619.7 592.1,620.2 592.6,620.4 593.1,619.5 593.6,619.2 594.1,620.6 594.6,619.7 595.1,620.5 595.6,620.2 596.1,620.2 596.6,620.4 597.1,620.1 597.6,619.8 598.1,619.2 598.6,620.2 599.1,619.8 599.6,619.9 600.1,620.6 600.6,619.3 601.1,620.3 601.6,619.2 602.1,620.2 602.6,620.4 603.1,619.5 603.6,620 604.1,620.6 604.6,620.1 605.3,621 606,621.5 606.5,621.2 607,621.7 607.5,621.8 608,621.4 608.5,621.6 609,621.3 609.5,622.2 610,622.2 610.5,621.5 611,621.5 611.5,621.9 612,621.8 612.6,622.6 613.1,621.7 613.6,621.6 614.1,622.5 614.6,621.3 615.1,622 615.6,621.6 616.1,622.4 616.6,622 617.1,622.3 617.6,621.4 618.1,622.2 618.6,622.1 619.1,621.8 619.6,622.3 620.1,622.4 620.6,621.3 621.1,621.6 621.6,621.7 622.1,621.4 622.6,621.2 623.1,621.5 623.6,621.4 624.1,622.2 624.6,621.8 625.1,621.3 625.7,621.6 626.2,621.8 626.7,621.7 627.2,621.4 627.7,621.2 628.2,621.1 628.7,622.7 629.2,622.3 629.7,621.2 630.2,622.2 630.7,622.7 631.2,622 631.7,621.3 632.2,621.9 632.7,621.8 633.2,621.4 633.7,622 634.2,621.1 634.7,622.6 635.2,622.1 635.7,622.1 636.2,622.6 636.7,622.1 637.2,621.5 637.7,621.5 638.2,621.3 638.8,621.1 639.3,622.3 639.8,622.4 640.3,621.6 640.8,621.4 641.3,622.1 641.8,622.5 642.3,622.6 642.8,621.4 643.3,622.4 643.8,622.4 644.3,621.9 644.8,621.9 645,600 645.5,586.7 646,573.3 646.5,560 647,550 647.5,540 648,530 648.7,527 649.4,524 649.9,527.7 650.5,531.3 651,535 651.5,538.2 652,541.5 652.5,544.8 653,548 653.5,547 654,546 654.5,545 655,544 655.5,546.8 656,549.5 656.5,552.2 657,555 657.5,554.2 658,553.5 658.5,552.7 659,551.9 659.5,551.9 660,552 660.5,552 661,552 661.5,553.2 662,554.9 663,554.8 664,555 665,556.6 666,556.3 667,556.8 668,557.6 669,557.7 670,558.9 671,558.4 672,558.5 673,559.7 674,560.2 675,560.9 676,561.1 677,561.7 678,562.1 679,561.8 680,562.1 681,561.9 682,562.4 683,563.2 684,562.7 685,563.9 686,563.3 687,564.1 688,565.2 689,564 690,564.2 691,565.1 692,564.9 693,566 694,565 695,566.6 696,566.8 697,566.9 698,566.5 699,566.5 700,567.3 701,567.2 702,567.2 703,567.3 704,567.6 705,568.1 706,568.5 707,568.8 708,567.8 709,568.1 710,568.5 711,568.8 712,568.6 713,568.5 714,568.5 715,569 716,569.3 717,570.2 718,570.2 719,570.3 720,570.6 721,570.6 722,570.2" stroke="#ff0000"/>
<polyline points="229.7,718.3 230.2,718.3 230.7,718.3 231.3,718.3 231.8,718.3 232.3,718.3 232.8,718.3 233.3,718.3 233.8,718.3 234.4,718.3 234.9,718.3 235.4,718.3 235.9,718.3 236.4,718.3 236.9,718.3 237.5,718.3 238,718.3 238.5,718.3 239,716.2 239.5,714.1 240,712 240.5,696 241,680 241.5,640 242,600 242.5,570 243,540 243.5,522.5 244,505 244.8,499.8 245.3,501.4 245.8,503 246.5,508.7 247,540 247.8,620 248.5,690 249.3,706 249.9,703 250.5,700 251,680 251.5,660 252.1,635 252.6,610 253.5,552.2 254,541.1 254.5,530 255,529.7 255.5,529.3 256,529 256.6,528.4 257.2,527.9 257.8,527.3 258.3,533.6 258.8,540 259.4,562.5 260,585 260.5,597.5 261,610 261.5,612.5 262,615 262.5,605 263,595 263.5,580 264,565 264.5,559.9 265,554.8 265.5,557.4 266,560 266.5,567.5 267,575 267.5,582.5 268,590 268.6,592.4 269.2,594.7 269.7,596.2 270.2,597.8 270.9,596.9 271.5,596 272.1,595.6 272.7,595.1 273.3,594.7 273.8,593.1 274.4,591.5 274.9,590 275.4,588.4 276,595 276.5,599 277,603 277.5,607 278,606.8 278.5,606.7 279,606.5 279.5,606.5 280,606.5 280.5,606.5 281,606.5 281.5,606.5 282,606.5 282.5,606.5 283,606.5 283.5,606.5 284.1,606.5 284.6,606.5 285.1,606.5 285.6,606.5 286.1,606.5 286.6,606.5 287.1,606.5 287.6,606.5 288.1,606.5 288.6,606.5 289.1,606.5 289.6,606.5 290.1,606.5 290.6,606.5 291.1,606.5 291.6,606.5 292.1,606.5 292.6,606.5 293.1,606.5 293.6,606.5 294.1,606.5 294.7,606.5 295.2,606.5 295.7,606.5 296.2,606.5 296.7,606.5 297.2,606.5 297.7,606.5 298.2,606.5 298.7,606.5 299.2,606.5 300,620 300.5,632 301,645.5 301.5,648.1 302,650.1 302.5,645.3 303,639.6 303.5,635.7 304,630 304.5,628.8 305,627 305.5,624.1 306,623.2 306.5,623.6 307,622.5 307.5,623 308,623.8 308.5,623.1 309,624.3 309.5,623.5 310,624.4 310.5,623.5 311,624 311.5,624.6 312,623.6 312.5,623.7 313,624 313.5,623.7 314,623.4 314.5,623.6 315,623.5 315.5,624.6 316,624.3 316.5,624.6 317,623.5 317.5,624.4 318,623.5 318.5,624 319,624.2 319.5,623.8 320.1,624.5 320.6,624.1 321.1,624.1 321.6,624.5 322.1,623.4 322.6,624.7 323.1,624.2 323.6,623.9 324.1,624.4 324.6,623.7 325.1,624.7 325.6,624.1 326.1,623.8 326.6,624.4 327.1,623.9 327.6,623.5 328.1,624.3 328.6,623.4 329.1,624.4 329.6,623.7 330.1,624.2 330.6,624.7 331.1,624.1 331.6,624.2 332.1,623.7 332.6,623.3 333.1,623.3 333.6,623.5 334.1,624.2 334.6,623.9 335.1,624 335.6,624.6 336.1,623.5 336.6,623.6 337.1,624.2 337.6,623.3 338.1,623.3 338.6,623.8 339.1,623.4 339.6,623.8 340.2,623.6 340.7,624.1 341.2,624.1 341.7,623.6 342.2,624.2 342.7,624 343.2,623.5 343.7,624.6 344.2,623.6 344.7,623.5 345.2,623.4 345.7,624.2 346.2,624.5 346.7,624.4 347.2,623.9 347.7,623.7 348.2,623.3 348.7,624.2 349.2,624.1 349.7,623.8 350.2,621.2 350.7,617.9 351.3,616.1 352,613.3 352.6,610.1 353,609.2 353.5,609.9 354,613.4 354.5,616.7 355,620.5 355.5,624.3 356,629.1 356.5,631.3 357,634.7 357.5,636.9 358,636.5 358.5,636.2 359,635.5 359.5,633.3 360,630.7 360.5,627.9 361,623.8 361.5,620.9 362,618.1 362.5,615.6 363,615.3 363.5,614.5 364,614.6 364.5,614.5 365,617.2 365.5,619.2 366,621.2 366.5,624.2 367,626.4 367.5,628.3 368,630 368.5,631.5 369,631.9 369.5,632.4 370,632.4 370.5,631.2 371,629.8 371.5,627.7 372,625.1 372.5,623.4 373,621.4 373.5,620.4 374,618.9 374.5,617.9 375,618.3 375.5,619.2 376,619 376.5,621.1 377,621.4 377.5,623.4 378,625 378.5,627.3 379,628.9 379.5,629.6 380,629.6 380.5,630.6 381,629.6 381.5,628.9 382,628.9 382.5,627.4 383,626.2 383.5,624.9 384,624.1 384.5,622.3 385,622 385.5,621.3 386,621.3 386.5,620.8 387,621.7 387.5,622.2 388,622.7 388.5,623.6 389,625.2 389.5,625.5 390,627.6 390.5,627.2 391,627.6 391.5,627.9 392,629.1 392.5,628 393,627.2 393.5,626.4 394,625.6 394.5,625.7 395,624.8 395.5,624.2 396,623.6 396.5,622.3 397,622.8 397.5,622.5 398,623.3 398.5,623.7 399,624.4 399.5,623.8 400,625.7 400.5,626.4 401,627.1 401.5,626.4 402,626.9 402.5,627 403,627 403.5,628 404,627.7 404.5,627.1 405,626.9 405.5,626.1 406,625.1 406.5,624.3 407,623.9 407.5,624.5 408,623.6 408.5,623.7 409,623.9 409.5,623.6 410,624.2 410.5,624.7 411,625.7 411.5,625.7 412,626 412.5,627.3 413,626.9 413.5,627.6 414,627.4 414.5,626.5 415,626.9 415.5,626.7 416,626.9 416.5,626 417,626.2 417.5,625.7 418,624.9 418.5,625.6 419,624.4 419.5,625.4 420,624.5 420.5,624.3 421,624.8 421.5,625.8 422,626.4 422.5,625.3 423,626.3 423.5,626.6 424,627.2 424.5,626.5 425,627 425.5,626.8 426,627.4 426.5,626.5 427,627.3 427.5,626.2 428,625.9 428.5,626.4 429,625.9 429.5,625.3 430,625.9 430.5,625 431,626 431.5,626 432,626.2 432.5,626.1 433,625.9 433.5,626.2 434,626.3 434.5,627.2 435,626.2 435.5,627.5 436,626.4 436.5,626.6 437,626.7 437.5,627.6 438,626.9 438.5,626.6 439,627.2 439.5,626.2 440,626.4 440.5,626.4 441,626.6 441.5,626.6 442,626.4 442.5,626 443,626.1 443.5,625.9 444,627 444.5,626.9 445,627.1 445.5,626.4 446,626.9 446.5,627.5 447,627.3 447.5,626.7 448,627.1 448.5,627.7 449,626.8 449.5,626.6 450,626.7 450.5,627.2 451,627.3 451.5,626.3 452,626.3 452.5,626.4 453,626.5 453.5,626.8 454,626.3 454.5,626.6 455,626.5 455.5,627.6 456,627.4 456.5,626.6 457,627.9 457.5,626.7 458,627.2 458.5,628.1 459,627.8 459.5,627.7 460,627.3 460.5,626.9 461,627.5 461.5,626.7 462,626.8 462.5,627 463,626.5 463.5,627 464,627.6 464.5,627.4 465,627.2 465.5,627.4 466,627.2 466.5,626.8 467,627.5 467.5,627.3 468,627.8 468.5,628.1 469,627.5 469.5,627.7 470,628 470,627.4 470.5,627.1 471,627.8 471.5,628 472,627.9 472.5,627.8 473,628 473.5,627.8 474,627.7 474.5,627.4 475,627.2 475.5,627.7 476,626.9 476.5,627.4 477,627.9 477.5,627.8 478,627.7 478.5,627.2 479,627.4 479.5,627.5 480,627.7 480.5,627.4 481,627.8 481.5,628.1 482,627.1 482.5,627.7 483,627.9 483.5,627.4 484,627.5 484.5,628.2 485,626.9 485.5,627.6 486,627 486.5,627.9 487,628.1 487.5,627.6 488,627 488.5,627.6 489,627.6 489.5,627.8 490,627.5 490.5,627.7 491,628 491.5,627.6 492,627.4 492.5,628.2 493,627.1 493.5,627.8 494,627.4 494.5,627.9 495,627 495.5,628.2 496,627.3 496.5,626.9 497,627.2 497.5,627.4 498,626.9 498.5,627.4 499,627.4 499.5,627.8 500,627.3 500.5,627.2 501,627.2 501.5,627.9 502,628.2 502.5,627.6 503,627.2 503.5,628 504,627.4 504.5,627.1 505,627 505.5,627.9 506,628 506.5,627.7 507,627.5 507.5,627.6 508,627.2 508.5,628.2 509,627.4 509.5,627.8 510,628 510.5,628 511,627.5 511.5,627.3 512,627.6 512.5,627 513,628 513.5,627.4 514,628.1 514.5,627.2 515,627.4 515.5,627.2 516,627.5 516.5,627.1 517,626.9 517.5,627.9 518,627.3 518.5,627.2 519,627.3 519.5,627.5 520,627.5 520.5,627.8 521,627.8 521.5,627.4 522,628.2 522.5,628.1 523,627 523.5,628 524,628.1 524.5,628 525,627.1 525.5,628 526,627.8 526.5,626.9 527,626.9 527.5,628.2 528,627.8 528.5,627.2 529,627 529.5,627.1 530,627.2 530.5,628 531,627.4 531.5,627.1 532,628.2 532.5,628 533,627.1 533.5,628.1 534,627.7 534.5,628 535,627.8 535.5,628.1 536,628 536.5,628.1 537,627.2 537.5,627.9 538,627.6 538.5,627.9 539,627.5 539.5,628.1 540,627.7 540.5,627.3 541,627.2 541.5,627.1 542,627.6 542.5,627 543,627.6 543.5,627.1 544,627.6 544.5,627.6 545,627.7 545.5,628.1 546,626.9 546.5,628.1 547,627.6 547.5,627.7 548,627.8 548.5,628.1 549,627.4 549.5,627.5 550,628.3 550.5,627 551,627.8 551.5,627.8 552,627 552.5,627.8 553,627.9 553.5,628.2 554,627.4 554.5,628.3 555,627.6 555.5,627.6 556,628.2 556.5,627 557,627.9 557.5,627.8 558,627.4 558.5,628.1 559,627.4 559.5,627.6 560,627.7 560.5,628 561,627.2 561.5,627.5 562,627.5 562.5,627.7 563,628.1 563.5,627.3 564,628.1 564.5,627.5 565,627.6 565.5,627.3 566,627.7 566.5,628.3 567,627.9 567.5,628.1 568,627.4 568.5,627.4 569,627.4 569.5,627.8 570,627.8 570.5,628 571,627 571.5,628 572,628.2 572.5,627.7 573,627 573.5,627.4 574,627 574.5,627.2 575,628.2 575.5,627.8 576,627.9 576.5,628.1 577,628.2 577.5,627.8 578,627.8 578.5,627.8 579,627.9 579.5,627.8 580,627.9 580.5,627.3 581,627.9 581.5,627.6 582,628 582.5,627.1 583,627.2 583.5,627 584,628.1 584.5,628.3 585,627.9 585.5,627.5 586,628.1 586.5,628.1 587,627.8 587.5,627.3 588,627.4 588.5,627.6 589,627.4 589.5,627.6 590,627.9 590.5,628.3 591,627.1 591.5,627.8 592,627 592.5,627.1 593,628.1 593.5,627.8 594,628.3 594.5,627.6 595,627 595.5,627.5 596,627.8 596.5,628.3 597,628.4 597.5,627.7 598,627.6 598.5,627.1 599,627.9 599.5,627.3 600,627.2 600.5,627 601,627 601.5,628 602,627.2 602.5,628.4 603,627.1 603.5,628.2 604,627.2 604.5,627.7 605,629.3 605.5,629.3 606,630.6 606.5,629.9 607,629.7 607.5,630.7 608,630.6 608.5,630.8 609,630.6 609.5,629.7 610,630.5 610.5,630.6 611,630.2 611.5,630.9 612,630 612.6,631 613.1,630.6 613.6,629.6 614.1,629.6 614.6,630.5 615.1,630.7 615.6,629.7 616.1,630 616.6,630.6 617.1,629.8 617.6,630.8 618.1,630.3 618.6,629.7 619.1,630.1 619.6,630.4 620.1,630.2 620.6,630.5 621.1,629.8 621.6,630.7 622.1,630.1 622.6,630.5 623.1,630.5 623.6,630.2 624.1,630.1 624.6,630.7 625.1,630.9 625.7,630.7 626.2,630.4 626.7,630 627.2,629.7 627.7,631 628.2,630.6 628.7,630.8 629.2,630.1 629.7,630.4 630.2,631 630.7,630.8 631.2,630.4 631.7,630 632.2,630.2 632.7,630.8 633.2,630.1 633.7,630.6 634.2,630.4 634.7,630.9 635.2,630.7 635.7,630 636.2,629.6 636.7,630 637.2,630.2 637.7,630.4 638.2,630.7 638.8,630.8 639.3,629.7 639.8,630.8 640.3,630.7 640.8,630.8 641.3,630.4 641.8,630 642.3,630.8 642.8,630.7 643.3,630.6 643.8,630.9 644.3,630.3 644.8,630.3 645.5,620 646,600 646.5,580 647,560 647.5,550 648,540 648.5,536.5 649,533 649.5,546.5 650,560 650.5,570 651,580 651.5,570 652,560 652.5,572.5 653,585 653.5,577.5 654,570 654.5,568.8 655,567.5 655.5,566.2 656,565 656.5,567.5 657,570 657.5,572.5 658,575 658.5,573.8 659,572.5 659.5,571.2 660,570 660.5,569.4 661,568.7 661.5,568 662,567.2 663,567.4 664,568.6 665,569.5 666,569.2 667,570.5 668,571.3 669,570.8 670,571.8 671,572.3 672,572.5 673,572.5 674,573 675,574.1 676,574.6 677,574.5 678,574.4 679,575.8 680,576.1 681,575.7 682,576.5 683,577.3 684,577.6 685,577.4 686,577.6 687,578 688,577.8 689,578.1 690,578.3 691,579.3 692,579.1 693,579.6 694,579.6 695,580 696,579.7 697,579.8 698,581.3 699,580.7 700,580.5 701,581.4 702,581.8 703,581.1 704,581.9 705,581.8 706,582.2 707,581.6 708,581.8 709,583.3 710,583.3 711,582.9 712,583.2 713,582.9 714,583.7 715,583.4 716,584.2 717,584.1 718,584.3 719,584.6 720,583.7 721,583.5 722,583.9" stroke="#0000c0"/>
</g>
<g fill="none" stroke-width="3" stroke-linejoin="round">
<polyline points="229.7,921 230.2,923.2 230.7,923.4 231.2,923.8 231.8,924.3 232.3,922.4 232.8,917.7 233.3,921.5 233.8,920 234.3,923.4 234.8,919.2 235.4,919.5 235.9,920.2 236.4,923.8 236.9,918.3 237.4,923.5 237.9,921.5 238.5,924.1 239,920.4 239.5,924.9 240,925 240.5,921 241,923.4 241.5,923.9 242,923.7 242.5,923.4 243,925.7 243.5,923.8 244,928.7 244.5,922.7 245,922.5 245.5,925.9 246,926.3 246.5,927.4 247,929.8 247.5,925.9 248,930.7 248.5,931.7 249,928.7 249.5,931.2 250,927.7 250.5,929.2 251,928.6 251.5,931.5 252,929.3 252.5,936.3 253,935.2 253.5,936.6 254,936 254.5,933.4 255,932.8 255.5,935 256,938 256.5,935.1 257,935.5 257.5,936 258,934.4 258.5,933.2 259,934.4 259.5,934.8 260,931.2 260.5,936.6 261,933 261.5,935.1 262,935.8 262.5,932.7 263,936.7 263.5,936.6 264,933.3 264.5,938.2 265,938.4 265.5,931.9 266,937.3 266.5,932.3 267,936.1 267.5,933.8 268,933.1 268.5,932.4 269,935.9 269.5,932.4 270,931.8 270.5,933.6 271,932.6 271.5,934.5 272,934.9 272.5,934.8 273,935.7 273.5,932.5 274,936.5 274.5,934.3 275,934.4 275.5,936.4 276,932.4 276.5,944.4 277,936 277.5,934.3 278,933.5 278.5,936.2 279,938.4 279.5,934 280,937.2 280.5,936.3 281,938.4 281.5,934.3 282,932.1 282.5,937.3 283,933.7 283.5,935 284,938 284.5,935.2 285,936.1 285.5,933.7 286,935.8 286.5,933.2 287,934.1 287.5,938.1 288,933.3 288.5,937.4 289,936.4 289.5,932.7 290,937.3 290.5,932.9 291,933.2 291.5,936.7 292,938.4 292.5,938.2 293,938.2 293.5,932.7 294,937.7 294.5,931.9 295,936.9 295.5,938.6 296,931.6 296.5,931.4 297,936 297.5,932.4 298,935.8 298.5,938 299,937.5 299.5,932.5 300,930.7 300.5,935.9 301,929.1 301.5,928.4 302,932.2 302.5,930.1 303,925.7 303.5,930.9 304,927.8 304.5,928.3 305,926.2 305.5,929.7 306,927.4 306.5,924.5 307,915.6 307.5,925.9 308,924.6 308.5,928.2 309,926.8 309.5,930.5 310,929.9 310.5,930.6 311,928.1 311.5,923.1 312,925.5 312.5,927.3 313,925.6 313.5,927.2 314,929.5 314.5,926.7 315,923.3 315.5,923.6 316,925.2 316.5,918.3 317,925 317.5,929.5 318,928.4 318.5,928.5 319,923.6 319.5,928.4 320,927.8 320.5,925.7 321,930 321.5,926.1 322,929 322.5,926.3 323,925.8 323.5,926.4 324,928.5 324.5,927.9 325,930.3 325.5,928.4 326,927.6 326.5,924.6 327,923 327.5,923.4 328,929.5 328.5,926.2 329,928.1 329.5,925.3 330,924.1 330.5,928.8 331,924 331.5,925.2 332,929.7 332.5,928.6 333,929.5 333.5,929.5 334,929.9 334.5,927.3 335,929 335.5,923.3 336,928.6 336.5,928.2 337,926 337.5,929.8 338,923.7 338.5,926.7 339,923.7 339.5,926 340,924.5 340.5,926.6 341,926.9 341.5,929.1 342,929.7 342.5,923.4 343,929.7 343.5,926.5 344,922.6 344.5,923.3 345,927.1 345.5,929.5 346,925 346.5,927.1 347,928.8 347.5,925 348,924.5 348.5,924.1 349,917.2 349.5,926.1 350,928.6 350.5,927.4 351,929.7 351.5,914.1 352,922.9 352.5,929 353,926.1 353.5,927.6 354,923.6 354.5,929.7 355,923.9 355.5,923.1 356,927.8 356.5,927.3 357,929.7 357.5,926.7 358,925.4 358.5,929 359,925.5 359.5,922.4 360,922.6 360.5,926.2 361,925 361.5,923.2 362,925 362.5,923.4 363,923 363.5,923.1 364,926.5 364.5,926 365,927.9 365.5,924 366,935 366.5,922.9 367,925.1 367.5,928 368,927.3 368.5,925.6 369,929.2 369.5,923.6 370,922.8 370.5,922.9 371,925.4 371.5,926.1 372,924.1 372.5,924.5 373,929.1 373.5,925.5 374,922.5 374.5,928.6 375,923.4 375.5,922.6 376,924.7 376.5,927.8 377,926.1 377.5,927.3 378,927.2 378.5,915.4 379,923 379.5,926.3 380,925 380.5,927.2 381,922.5 381.5,928.6 382,922.8 382.5,923.7 383,927 383.5,927.4 384,923 384.5,926.5 385,922.7 385.5,929 386,922.7 386.5,927.2 387,923.6 387.5,927.7 388,928.2 388.5,928.3 389,923.9 389.5,924.2 390,928.5 390.5,928.5 391,925.5 391.5,923.2 392,925.5 392.5,929.1 393,924.2 393.5,928.3 394,923.9 394.5,928.8 395,924.5 395.5,928.6 396,926.4 396.5,925.6 397,928.2 397.5,926.3 398,923.8 398.5,923.2 399,926.4 399.5,926.9 400,923.2 400.5,925.5 401,922.5 401.5,923.1 402,925.6 402.5,925.8 403,928.8 403.5,926.3 404,928.5 404.5,924.2 405,927.4 405.5,928.8 406,925.7 406.5,924.9 407,928.5 407.5,925.5 408,924.1 408.5,922.3 409,924.8 409.5,925.5 410,929 410.5,924.5 411,924.8 411.5,927.7 412,923.6 412.5,923.7 413,922.5 413.5,924.8 414,929.5 414.5,923.4 415,927.1 415.5,924.9 416,927.3 416.5,922.5 417,922.6 417.5,923.4 418,926.1 418.5,924.3 419,929.8 419.5,929.7 420,923.6 420.5,927.8 421,924.6 421.5,922.5 422,923.8 422.5,926.6 423,922.9 423.5,928.7 424,925.8 424.5,928.9 425,926.5 425.5,928.7 426,925.7 426.5,925.5 427,929.2 427.5,923.9 428,925.2 428.5,925.4 429,924 429.5,926.1 430,924.5 430.5,927.6 431,922.3 431.5,925.7 432,923.5 432.5,925.8 433,923.4 433.5,929.6 434,927.9 434.5,928.9 435,928.8 435.5,922.7 436,936 436.5,924.4 437,926.1 437.5,923.5 438,926 438.5,928.7 439,928.9 439.5,924.7 440,926.5 440.5,922.8 441,925 441.5,927.2 442,924.7 442.5,928.6 443,925.4 443.5,924.9 444,923.4 444.5,927.3 445,925.3 445.5,928.2 446,928.5 446.5,927.8 447,923.9 447.5,927.4 448,926 448.5,923.7 449,927.1 449.5,924.2 450,923.2 450.5,923.5 451,924.6 451.5,923.2 452,926.9 452.5,924.5 453,926.4 453.5,928.1 454,923.9 454.5,928.5 455,927.9 455.5,925.6 456,928.4 456.5,923 457,922.5 457.5,929.6 458,924.2 458.5,923.5 459,926.2 459.5,929 460,928.5 460.5,926.2 461,923.7 461.5,924.8 462,924.8 462.5,922.7 463,923.1 463.5,924.4 464,929.2 464.5,928.8 465,925.5 465.5,924.3 466,928.4 466.5,923.9 467,929.2 467.5,926.9 468,923.3 468.5,925.7 469,925.7 469.5,929.5 470,927.9 470.5,924.1 471,925.2 471.5,923.9 472,925 472.5,926 473,927.9 473.5,928.9 474,923.8 474.5,927.8 475,925.3 475.5,923.4 476,925.8 476.5,928.2 477,927.7 477.5,928.4 478,924.3 478.5,925.9 479,926.6 479.5,935 480,928.5 480.5,926.8 481,923.2 481.5,924.4 482,928.2 482.5,928.4 483,927.4 483.5,923.7 484,925.4 484.5,923.4 485,928.9 485.5,923.4 486,926.7 486.5,925.9 487,925.7 487.5,928.7 488,929.4 488.5,922.7 489,926.7 489.5,924 490,924.7 490.5,924.1 491,927.3 491.5,926.1 492,927.3 492.5,923.6 493,928 493.5,928.8 494,922.8 494.5,923.1 495,923.1 495.5,924.4 496,926 496.5,928.5 497,923.4 497.5,922.6 498,923.4 498.5,928.5 499,924.1 499.5,928.3 500,929.7 500.5,925 501,929.8 501.5,926 502,928.5 502.5,926.2 503,925.7 503.5,925.7 504,926.9 504.5,927 505,926.9 505.5,923.3 506,929.4 506.5,922.8 507,927.5 507.5,926.3 508,925 508.5,928.3 509,927.6 509.5,927.8 510,926.1 510.5,927.3 511,923.8 511.5,925 512,925.1 512.5,929 513,928.4 513.5,929.9 514,928.3 514.5,924.2 515,926.7 515.5,923.8 516,925.2 516.5,925.8 517,924.6 517.5,925.3 518,929.2 518.5,928.7 519,923.8 519.5,926.4 520,924.5 520.5,928.8 521,924.1 521.5,926.2 522,929.8 522.5,927.3 523,923.3 523.5,930 524,927.5 524.5,923.5 525,923.9 525.5,928.5 526,925.9 526.5,926.7 527,924.2 527.5,923.7 528,924.6 528.5,924.2 529,926.3 529.5,925 530,923.5 530.5,923.9 531,926.3 531.5,929.7 532,923.7 532.5,927.7 533,925.3 533.5,924.6 534,925.4 534.5,925.5 535,928.1 535.5,929.3 536,925 536.5,927.1 537,928.7 537.5,926.4 538,925.4 538.5,930.1 539,930.5 539.5,929.5 540,924.9 540.5,928.3 541,927.6 541.5,929.9 542,925.3 542.5,924.8 543,928.8 543.5,928.4 544,927 544.5,928.6 545,924.9 545.5,926.4 546,926.3 546.5,929.1 547,926.5 547.5,927.4 548,930.7 548.5,929.4 549,927 549.5,925.3 550,928.9 550.5,929.9 551,925.6 551.5,927.2 552,926.4 552.5,930 553,928.7 553.5,924.8 554,925.2 554.5,924.4 555,929.1 555.5,930.1 556,930.1 556.5,925.7 557,923.7 557.5,926.5 558,930.2 558.5,923.7 559,925.4 559.5,923.9 560,929.1 560.5,927.5 561,925.9 561.5,926.6 562,930.5 562.5,930.2 563,929.2 563.5,929 564,929.9 564.5,927.9 565,926.8 565.5,929.2 566,929.7 566.5,928.4 567,930 567.5,926.3 568,926.7 568.5,926.4 569,930.9 569.5,928.9 570,929.8 570.5,927.4 571,926.3 571.5,928.6 572,925.8 572.5,930.7 573,925 573.5,926.5 574,931.5 574.5,930 575,925.3 575.5,925.3 576,927.4 576.5,927.6 577,931.3 577.5,930.5 578,928.5 578.5,926.3 579,927 579.5,927.9 580,928.7 580.5,925.6 581,924.2 581.5,924.5 582,930.4 582.5,931.4 583,928.6 583.5,924.2 584,926.1 584.5,924.6 585,927 585.5,927.2 586,929.7 586.5,928.7 587,928.7 587.5,931.7 588,924.5 588.5,929.3 589,931.2 589.5,931 590,928.6 590.5,926.5 591,928.9 591.5,928.4 592,928.6 592.5,928.6 593,924.5 593.5,928.5 594,931.7 594.5,927.9 595,928.4 595.5,931.5 596,926.8 596.5,924.8 597,924.6 597.5,930.4 598,927.3 598.5,929.7 599,929 599.5,928.9 600,930.3 600.5,926.3 601,927.4 601.5,930.5 602,928.7 602.5,931.6 603,926.5 603.5,931.6 604,930.9 604.5,928.6 605,925 605.5,925.7 606,926.8 606.5,928.9 607,930.6 607.5,925.6 608,930.8 608.5,931.7 609,936.8 609.5,930.4 610,929.4 610.5,932.1 611,930.9 611.5,927 612,929.8 612.5,928.9 613,926.5 613.5,925.7 614,931.4 614.5,930 615,925.6 615.5,930.5 616,925.4 616.5,930.6 617,930.9 617.5,925.5 618,931.4 618.5,925.3 619,925.4 619.5,925.4 620,929.8 620.5,927.9 621,925 621.5,926.6 622,930.2 622.5,928.8 623,925.8 623.5,927 624,930.4 624.5,927.3 625,931.4 625.5,928.5 626,931.9 626.5,928.3 627,931.4 627.5,926.9 628,928.7 628.5,926.1 629,932.4 629.5,927.8 630,931.7 630.5,925.9 631,930.6 631.5,930 632,928.9 632.5,928.4 633,931.9 633.5,932 634,932.3 634.5,932 635,931.7 635.5,932.6 636,931.5 636.5,927.9 637,926.7 637.5,928.6 638,926.6 638.5,930.6 639,932.5 639.5,928 640,929.5 640.5,932.3 641,927.9 641.5,925.7 642,929.6 642.5,932.6 643,927.8 643.5,926.5 644,929.7 644.5,928.4 645,927.6 645.5,932.3 646,937 646.5,936.9 647,942.8 647.5,948 648,948.1 648.5,947.3 649,944.5 649.5,950.3 650,949.1 650.5,952.6 651,947 651.5,951.7 652,947.2 652.5,947.3 653,952 653.5,950.8 654,948.9 654.5,953.9 655,953.3 655.5,954.2 656,953.2 656.5,952.2 657,955.1 657.5,951.5 658,948 658.5,948.7 659,946.8 659.5,953.1 660,951.7 660.5,944.5 661,941.5 661.5,938.4 662,936.6 662.5,938.4 663,923.1 663.5,933.7 664,932.1 664.5,930.4 665,931.4 665.5,934.2 666,933.3 666.5,932.3 667,928.5 667.5,927.1 668,932 668.5,932.2 669,929.4 669.5,932.4 670,928.4 670.5,927.4 671,926.5 671.5,928 672,927.5 672.5,931.9 673,930.2 673.5,929.1 674,930.9 674.5,929.1 675,926.4 675.5,931 676,925.1 676.5,929.2 677,925.1 677.5,928.5 678,925 678.5,929.9 679,925.3 679.5,925 680,925.4 680.5,929.1 681,924.8 681.5,928.1 682,925 682.5,923.7 683,925.4 683.5,923.4 684,926.6 684.5,923.2 685,922.7 685.5,922.1 686,924.8 686.5,923.7 687,925.9 687.5,924.6 688,920.9 688.5,921.1 689,924.1 689.5,927 690,925 690.5,921.2 691,922.3 691.5,922.4 692,923.4 692.5,921.3 693,919.8 693.5,923.2 694,923.2 694.5,924.5 695,926.5 695.5,924.9 696,920.1 696.5,923.1 697,921.5 697.5,919.5 698,920.9 698.5,924.6 699,920.5 699.5,924.5 700,919.6 700.5,919.7 701,922.6 701.5,923.6 702,923.2 702.5,924.5 703,919 703.5,921.7 704,923 704.5,924.9 705,922.2 705.5,920 706,919.4 706.5,919.7 707,922.7 707.5,919.8 708,920.5 708.5,921 709,921.6 709.5,921.5 710,924.1 710.5,920.7 711,923.5 711.5,923.5 712,924.2 712.5,924.6 713,918.1 713.5,924.5 714,918.2 714.5,921.5 715,921.3 715.5,918.1 716,919.1 716.5,918.7 717,920.9 717.5,922.2 718,918.8 718.5,922.9 719,918.3 719.5,920.7 720,917.4 720.5,918.7 721,923.9 721.5,920.4 722,922.7 722.5,920.9 723,921.4 723.5,922.1 724,931" stroke="#ff0000"/>
<polyline points="229.7,913.4 230.2,912.4 230.7,909.7 231.2,914.7 231.8,912.5 232.3,910.3 232.8,908 233.3,913.1 233.8,908.6 234.3,910.9 234.8,911.4 235.4,912.6 235.9,909.3 236.4,915.3 236.9,909.5 237.4,910.6 237.9,912.8 238.5,912.6 239,910.7 239.5,910 240,913.7 240.5,912.6 241,913 241.5,914.1 242,916 242.5,918 243,911.5 243.5,913.9 244,918.5 244.5,917.3 245,917.6 245.5,913.8 246,912.3 246.5,914.1 247,918.1 247.5,919.7 248,919.8 248.5,920.4 249,915 249.5,916.5 250,919.4 250.5,915.5 251,920.5 251.5,920.7 252,920.2 252.5,920.1 253,917.2 253.5,921.8 254,918.5 254.5,923.7 255,918.6 255.5,918.5 256,919.1 256.5,919.9 257,920.6 257.5,924.4 258,922.9 258.5,924.9 259,920.3 259.5,921.5 260,923.8 260.5,919.1 261,922.9 261.5,921.3 262,924.1 262.5,924.3 263,918.3 263.5,919.3 264,922.2 264.5,919 265,921.3 265.5,920.6 266,917.7 266.5,920.2 267,921.2 267.5,918 268,922.8 268.5,919.8 269,919.7 269.5,921.7 270,925.2 270.5,922 271,924.3 271.5,922.5 272,920.5 272.5,923.7 273,924.8 273.5,920 274,923.3 274.5,922.5 275,921.9 275.5,918.2 276,920.2 276.5,921.4 277,919.6 277.5,920.4 278,917.8 278.5,921.1 279,922 279.5,919 280,920 280.5,923.2 281,924.8 281.5,924.7 282,918.3 282.5,922.1 283,920.4 283.5,921 284,918.2 284.5,924.5 285,919.7 285.5,919 286,923.1 286.5,920.7 287,922.3 287.5,922.6 288,923.3 288.5,922.3 289,923.9 289.5,920.3 290,919.1 290.5,924.4 291,924.7 291.5,920.2 292,922.6 292.5,922.9 293,918.1 293.5,918 294,920.2 294.5,922.2 295,921.2 295.5,924.7 296,925.2 296.5,922.4 297,920.2 297.5,918.9 298,923.5 298.5,923.4 299,920.8 299.5,920.4 300,920.2 300.5,920.8 301,920 301.5,920 302,919.5 302.5,916.5 303,916.5 303.5,924.2 304,917.7 304.5,912.2 305,913.5 305.5,917.6 306,911.4 306.5,912.1 307,912.5 307.5,916.1 308,917.1 308.5,916.4 309,913.2 309.5,913.9 310,912.1 310.5,917.4 311,912.1 311.5,910.7 312,910.6 312.5,917.5 313,913.2 313.5,913.4 314,913.4 314.5,917.1 315,910.7 315.5,912.4 316,913 316.5,912.7 317,914.3 317.5,916.6 318,917.7 318.5,917.8 319,912.8 319.5,910.6 320,912.5 320.5,915.2 321,912.2 321.5,916.5 322,916.2 322.5,916.5 323,913.9 323.5,917.7 324,916.7 324.5,917.5 325,912.9 325.5,913.3 326,914.1 326.5,913.7 327,915.7 327.5,913.2 328,915.1 328.5,915.4 329,911.6 329.5,915 330,916.1 330.5,917.4 331,911.5 331.5,918 332,910.6 332.5,914.7 333,914.8 333.5,914.7 334,917.9 334.5,918 335,918 335.5,911.2 336,910.8 336.5,918 337,911 337.5,917.9 338,913.1 338.5,914.1 339,913.2 339.5,918.2 340,912.7 340.5,914.8 341,911.8 341.5,917.4 342,917.5 342.5,912.5 343,918.2 343.5,916.2 344,916.9 344.5,911.3 345,910.9 345.5,913.8 346,915.9 346.5,915.8 347,915.1 347.5,915.6 348,913.3 348.5,913.6 349,916.7 349.5,913.4 350,918.1 350.5,915.7 351,911.3 351.5,915.8 352,916.5 352.5,917.1 353,913.4 353.5,915.1 354,911.2 354.5,913.5 355,912 355.5,915.9 356,915.8 356.5,917.9 357,915.7 357.5,913.2 358,917.3 358.5,913.9 359,913.6 359.5,915.8 360,913.1 360.5,912.9 361,914.2 361.5,915.6 362,912.1 362.5,910.8 363,914.5 363.5,915.5 364,916.9 364.5,922.8 365,912.2 365.5,912.9 366,912.7 366.5,911.5 367,917.4 367.5,914.1 368,915.5 368.5,911.2 369,913.6 369.5,913.1 370,915.8 370.5,913.5 371,915.3 371.5,912.3 372,916.3 372.5,915.9 373,911.4 373.5,913.8 374,914.7 374.5,916.6 375,915.4 375.5,914.4 376,914.1 376.5,917.7 377,914.6 377.5,917.2 378,916.5 378.5,911.2 379,915.1 379.5,916.8 380,912.6 380.5,917.1 381,911.6 381.5,915.2 382,916.1 382.5,914.6 383,916.2 383.5,915.4 384,917.2 384.5,912.1 385,924.8 385.5,911.6 386,916 386.5,914 387,916.2 387.5,912.9 388,914.3 388.5,913.3 389,912.6 389.5,918.1 390,916.4 390.5,918.1 391,914.5 391.5,916.1 392,911.1 392.5,918.3 393,911.3 393.5,914.4 394,912.6 394.5,915.7 395,916.6 395.5,912.6 396,917.6 396.5,912.1 397,917.3 397.5,911.2 398,916.7 398.5,912.8 399,916.8 399.5,915.1 400,917 400.5,915 401,912.6 401.5,911.5 402,917.4 402.5,914.5 403,917.7 403.5,912.1 404,914.5 404.5,917.8 405,916.5 405.5,913.5 406,915.3 406.5,918.3 407,912.9 407.5,913.6 408,913.4 408.5,916.4 409,912.3 409.5,913.7 410,911.5 410.5,916.2 411,916.2 411.5,911.7 412,911.3 412.5,917.9 413,912.7 413.5,913.5 414,916.9 414.5,914.8 415,917 415.5,915.6 416,915.6 416.5,911.2 417,912.4 417.5,912.5 418,914.9 418.5,914 419,917.6 419.5,916.7 420,916.9 420.5,912.5 421,911.5 421.5,915.7 422,916.5 422.5,917.6 423,916.8 423.5,914 424,924.3 424.5,913.3 425,913.1 425.5,913.3 426,913.7 426.5,915.6 427,913.2 427.5,913.5 428,918.8 428.5,916.8 429,913.1 429.5,912.1 430,917.3 430.5,912.9 431,912 431.5,917.7 432,914.6 432.5,912.2 433,912.3 433.5,913 434,917.2 434.5,917.6 435,911.9 435.5,912.1 436,917.2 436.5,913.7 437,917.1 437.5,912.8 438,918.5 438.5,911.6 439,912.5 439.5,912.7 440,917.2 440.5,918.4 441,916.8 441.5,911.4 442,911.7 442.5,913.9 443,916 443.5,918 444,914.2 444.5,916.4 445,915.9 445.5,915.2 446,915.2 446.5,916.7 447,911.8 447.5,917.4 448,912.7 448.5,916.3 449,915.4 449.5,916 450,916.3 450.5,917.4 451,917.2 451.5,913.3 452,915.8 452.5,915.9 453,918.3 453.5,916.5 454,916.3 454.5,914.1 455,918.7 455.5,916.6 456,916.6 456.5,914.8 457,913.8 457.5,918.8 458,915.1 458.5,913.8 459,915.7 459.5,914.5 460,911.8 460.5,919.1 461,918.3 461.5,915.6 462,913.2 462.5,914.4 463,914.5 463.5,912.7 464,914.2 464.5,918.3 465,913.9 465.5,918.2 466,916.2 466.5,919 467,911.7 467.5,912.4 468,915.9 468.5,917.2 469,919.1 469.5,917.3 470,912.6 470.5,913.6 471,915.5 471.5,913.7 472,914 472.5,916.9 473,917.8 473.5,916.6 474,916.9 474.5,918.3 475,912.6 475.5,914 476,912.8 476.5,915.2 477,924.1 477.5,916.1 478,912 478.5,917.4 479,913.8 479.5,913.9 480,914.9 480.5,916.6 481,916.9 481.5,919 482,917 482.5,913 483,918 483.5,914.4 484,915.7 484.5,913 485,913.1 485.5,912.2 486,914.7 486.5,919.1 487,914.2 487.5,913.3 488,915.2 488.5,913.8 489,914.8 489.5,913.9 490,918.8 490.5,918.3 491,917.8 491.5,913.1 492,915.5 492.5,917 493,914 493.5,918.9 494,914.2 494.5,913.9 495,912.3 495.5,916.3 496,919.1 496.5,913.9 497,916.2 497.5,917.2 498,918.2 498.5,914.4 499,919.4 499.5,917.3 500,915.1 500.5,917.7 501,915.1 501.5,914.8 502,918.7 502.5,916.1 503,919 503.5,914.7 504,915.3 504.5,918.6 505,916.6 505.5,916.5 506,918.6 506.5,918.6 507,917.3 507.5,916 508,919.1 508.5,918.5 509,918.9 509.5,917.6 510,916.9 510.5,912.8 511,918.5 511.5,913.9 512,913 512.5,919.7 513,915.1 513.5,912.9 514,906.4 514.5,916.2 515,916.8 515.5,912.6 516,915.9 516.5,914.6 517,919.7 517.5,914.2 518,918.6 518.5,919.8 519,917.9 519.5,913.8 520,914.5 520.5,919.7 521,913.1 521.5,915.4 522,915.6 522.5,919.2 523,915.3 523.5,917.5 524,917.4 524.5,915.8 525,919.2 525.5,914 526,913.4 526.5,918.3 527,919.4 527.5,918.5 528,918.2 528.5,914.1 529,919 529.5,918.6 530,918.3 530.5,912.8 531,915.8 531.5,917.5 532,916.8 532.5,917.5 533,915.1 533.5,913.5 534,918 534.5,912.9 535,918.6 535.5,919.3 536,919.5 536.5,913.4 537,915.2 537.5,920.2 538,916.8 538.5,915.8 539,917.8 539.5,914.3 540,919 540.5,918.7 541,914.1 541.5,916.2 542,913.7 542.5,916.9 543,919.1 543.5,913.5 544,914.5 544.5,919.9 545,915.5 545.5,916.4 546,905.1 546.5,915.9 547,917.4 547.5,914.5 548,917.4 548.5,918.4 549,913.5 549.5,913.4 550,916.1 550.5,918.4 551,918 551.5,916.6 552,920 552.5,913.5 553,920.6 553.5,916.1 554,919.3 554.5,918.7 555,913.8 555.5,919.2 556,913.5 556.5,920.2 557,918.3 557.5,918 558,915.2 558.5,913.3 559,914 559.5,918.6 560,919.3 560.5,917.1 561,919.2 561.5,906.8 562,919.5 562.5,918 563,919.4 563.5,913.7 564,915.5 564.5,913.4 565,913.5 565.5,919.5 566,914.3 566.5,915 567,914.2 567.5,917.6 568,914.1 568.5,919.9 569,914.2 569.5,915.8 570,914.6 570.5,920.9 571,913.6 571.5,914.4 572,918.1 572.5,917 573,918.2 573.5,920.6 574,919.7 574.5,920 575,913.9 575.5,920.1 576,920.3 576.5,920.9 577,919.1 577.5,916 578,916.2 578.5,917.1 579,918.7 579.5,919.6 580,921.3 580.5,915.9 581,917 581.5,915.6 582,920.8 582.5,919.7 583,920.6 583.5,917.9 584,920.2 584.5,918.7 585,918 585.5,915.2 586,918.9 586.5,921.1 587,920.9 587.5,921.4 588,915.6 588.5,920.9 589,916 589.5,921.6 590,917.4 590.5,919.3 591,919.8 591.5,916.1 592,919.4 592.5,916.1 593,919.1 593.5,919.2 594,919.5 594.5,914.7 595,914.3 595.5,915.3 596,918 596.5,919.5 597,920.1 597.5,915.1 598,917.4 598.5,917.7 599,915.1 599.5,917 600,914.6 600.5,916.1 601,920.5 601.5,909.9 602,915.1 602.5,919.5 603,916.5 603.5,918.1 604,914.9 604.5,915.2 605,915 605.5,916.6 606,921.7 606.5,918.7 607,917.4 607.5,917.4 608,919.7 608.5,921.5 609,920.4 609.5,914.9 610,921.4 610.5,921.2 611,921.5 611.5,914.8 612,917.6 612.5,916.9 613,918.5 613.5,919 614,917.9 614.5,921.8 615,918.1 615.5,916.3 616,918.2 616.5,917.4 617,918.7 617.5,916.5 618,922.5 618.5,917.8 619,918.2 619.5,918.9 620,917.4 620.5,918.6 621,922.2 621.5,916 622,919.8 622.5,917.2 623,915.6 623.5,918.7 624,919 624.5,921.3 625,920 625.5,915.4 626,921 626.5,916.2 627,918.1 627.5,917.6 628,921.7 628.5,920.2 629,915.3 629.5,920.7 630,921.7 630.5,922.7 631,917.6 631.5,916.8 632,915.5 632.5,918.1 633,915.8 633.5,921.8 634,920.5 634.5,922.3 635,919 635.5,921.4 636,922.8 636.5,915.7 637,918.6 637.5,919.8 638,917.3 638.5,916.7 639,920.1 639.5,919.7 640,917.5 640.5,917.6 641,922.5 641.5,916.6 642,921.3 642.5,918.8 643,921.9 643.5,917.6 644,917.4 644.5,921.3 645,921.1 645.5,922.9 646,930.8 646.5,927.9 647,932.5 647.5,932.9 648,935.8 648.5,940.1 649,939.3 649.5,941.1 650,941 650.5,942.6 651,943 651.5,941.6 652,946.1 652.5,942.2 653,941.2 653.5,944.7 654,944.7 654.5,942.2 655,943.2 655.5,945.8 656,947 656.5,942.5 657,947.4 657.5,947.2 658,942.7 658.5,945.3 659,944.8 659.5,943.1 660,946.8 660.5,941.4 661,934.1 661.5,930.4 662,924.8 662.5,922.2 663,920.8 663.5,919.1 664,920.5 664.5,921 665,915.8 665.5,917 666,916.1 666.5,918.9 667,917.1 667.5,919 668,914.4 668.5,918.9 669,914 669.5,918 670,917.6 670.5,919.2 671,913.7 671.5,914.2 672,919.5 672.5,914.3 673,913 673.5,913.7 674,912.6 674.5,914.1 675,918.4 675.5,918.7 676,913.5 676.5,911.7 677,912.1 677.5,913.5 678,911.9 678.5,918.2 679,916.2 679.5,913.6 680,910.3 680.5,910.6 681,910.5 681.5,915.9 682,913.4 682.5,914.4 683,913.2 683.5,909.6 684,911 684.5,912.8 685,913 685.5,911.6 686,910.7 686.5,912.8 687,914.3 687.5,910.2 688,916.1 688.5,915.3 689,908.9 689.5,910.9 690,913.4 690.5,914.2 691,912 691.5,913.8 692,910 692.5,909.5 693,912.4 693.5,907.7 694,913.4 694.5,913.9 695,910.8 695.5,907.7 696,911.7 696.5,907.4 697,910.7 697.5,913.2 698,909.8 698.5,910.6 699,911.9 699.5,906.7 700,906.9 700.5,907.1 701,913.2 701.5,906.5 702,906.2 702.5,912.3 703,908.4 703.5,906.8 704,911.1 704.5,905.8 705,910.6 705.5,910.7 706,911.5 706.5,908.3 707,908.1 707.5,910.5 708,911.8 708.5,909.2 709,912.1 709.5,910.3 710,906.5 710.5,910.8 711,907.6 711.5,910.5 712,911.4 712.5,911 713,910.4 713.5,908.1 714,909.4 714.5,908.8 715,909.6 715.5,909.1 716,897.4 716.5,903.9 717,908.3 717.5,910.9 718,910 718.5,905.5 719,906.3 719.5,906.2 720,905 720.5,906.3 721,909.9 721.5,904.9 722,909.1 722.5,908.5 723,909 723.5,907.8 724,909.1" stroke="#00009e"/>
</g>
<line x1="229.7" y1="140" x2="229.7" y2="1054.4" stroke="#383838" stroke-width="2.2"/>
<line x1="724.3" y1="140" x2="724.3" y2="1054.4" stroke="#383838" stroke-width="2.2"/>
<text x="220.8" y="164.5" font-family='"Liberation Sans", sans-serif' font-size="26.3" font-weight="normal" fill="#000" textLength="66" lengthAdjust="spacingAndGlyphs" text-anchor="end" stroke="#000" stroke-width="1.1">0.50</text>
<text x="220.8" y="205.1" font-family='"Liberation Sans", sans-serif' font-size="26.3" font-weight="normal" fill="#000" textLength="66" lengthAdjust="spacingAndGlyphs" text-anchor="end" stroke="#000" stroke-width="1.1">0.45</text>
<text x="220.8" y="245.7" font-family='"Liberation Sans", sans-serif' font-size="26.3" font-weight="normal" fill="#000" textLength="66" lengthAdjust="spacingAndGlyphs" text-anchor="end" stroke="#000" stroke-width="1.1">0.40</text>
<text x="220.8" y="286.3" font-family='"Liberation Sans", sans-serif' font-size="26.3" font-weight="normal" fill="#000" textLength="66" lengthAdjust="spacingAndGlyphs" text-anchor="end" stroke="#000" stroke-width="1.1">0.35</text>
<text x="220.8" y="326.9" font-family='"Liberation Sans", sans-serif' font-size="26.3" font-weight="normal" fill="#000" textLength="66" lengthAdjust="spacingAndGlyphs" text-anchor="end" stroke="#000" stroke-width="1.1">0.30</text>
<text x="220.8" y="367.5" font-family='"Liberation Sans", sans-serif' font-size="26.3" font-weight="normal" fill="#000" textLength="66" lengthAdjust="spacingAndGlyphs" text-anchor="end" stroke="#000" stroke-width="1.1">0.25</text>
<text x="220.8" y="408.1" font-family='"Liberation Sans", sans-serif' font-size="26.3" font-weight="normal" fill="#000" textLength="66" lengthAdjust="spacingAndGlyphs" text-anchor="end" stroke="#000" stroke-width="1.1">0.20</text>
<text x="220.8" y="500.4" font-family='"Liberation Sans", sans-serif' font-size="26.3" font-weight="normal" fill="#000" textLength="66" lengthAdjust="spacingAndGlyphs" text-anchor="end" stroke="#000" stroke-width="1.1">0.45</text>
<text x="220.8" y="550.8" font-family='"Liberation Sans", sans-serif' font-size="26.3" font-weight="normal" fill="#000" textLength="66" lengthAdjust="spacingAndGlyphs" text-anchor="end" stroke="#000" stroke-width="1.1">0.40</text>
<text x="220.8" y="601.3" font-family='"Liberation Sans", sans-serif' font-size="26.3" font-weight="normal" fill="#000" textLength="66" lengthAdjust="spacingAndGlyphs" text-anchor="end" stroke="#000" stroke-width="1.1">0.35</text>
<text x="220.8" y="651.7" font-family='"Liberation Sans", sans-serif' font-size="26.3" font-weight="normal" fill="#000" textLength="66" lengthAdjust="spacingAndGlyphs" text-anchor="end" stroke="#000" stroke-width="1.1">0.30</text>
<text x="220.8" y="702.1" font-family='"Liberation Sans", sans-serif' font-size="26.3" font-weight="normal" fill="#000" textLength="66" lengthAdjust="spacingAndGlyphs" text-anchor="end" stroke="#000" stroke-width="1.1">0.25</text>
<text x="220.8" y="803" font-family='"Liberation Sans", sans-serif' font-size="26.3" font-weight="normal" fill="#000" textLength="66" lengthAdjust="spacingAndGlyphs" text-anchor="end" stroke="#000" stroke-width="1.1">0.43</text>
<text x="220.8" y="854.4" font-family='"Liberation Sans", sans-serif' font-size="26.3" font-weight="normal" fill="#000" textLength="66" lengthAdjust="spacingAndGlyphs" text-anchor="end" stroke="#000" stroke-width="1.1">0.42</text>
<text x="220.8" y="905.8" font-family='"Liberation Sans", sans-serif' font-size="26.3" font-weight="normal" fill="#000" textLength="66" lengthAdjust="spacingAndGlyphs" text-anchor="end" stroke="#000" stroke-width="1.1">0.41</text>
<text x="220.8" y="957.2" font-family='"Liberation Sans", sans-serif' font-size="26.3" font-weight="normal" fill="#000" textLength="66" lengthAdjust="spacingAndGlyphs" text-anchor="end" stroke="#000" stroke-width="1.1">0.40</text>
<text x="220.8" y="1008.6" font-family='"Liberation Sans", sans-serif' font-size="26.3" font-weight="normal" fill="#000" textLength="66" lengthAdjust="spacingAndGlyphs" text-anchor="end" stroke="#000" stroke-width="1.1">0.39</text>
<text x="220.8" y="1060" font-family='"Liberation Sans", sans-serif' font-size="26.3" font-weight="normal" fill="#000" textLength="66" lengthAdjust="spacingAndGlyphs" text-anchor="end" stroke="#000" stroke-width="1.1">0.38</text>
<text x="187.2" y="1081.3" font-family='"Liberation Sans", sans-serif' font-size="29.5" font-weight="normal" fill="#000" textLength="76.5" lengthAdjust="spacingAndGlyphs" stroke="#000" stroke-width="0.9">00:30</text>
<text x="319.4" y="1082.6" font-family='"Liberation Sans", sans-serif' font-size="29.5" font-weight="normal" fill="#000" textLength="77" lengthAdjust="spacingAndGlyphs" stroke="#000" stroke-width="0.9">01:00</text>
<text x="456.3" y="1083.9" font-family='"Liberation Sans", sans-serif' font-size="29.5" font-weight="normal" fill="#000" textLength="76" lengthAdjust="spacingAndGlyphs" stroke="#000" stroke-width="0.9">01:30</text>
<text x="590.5" y="1083.9" font-family='"Liberation Sans", sans-serif' font-size="29.5" font-weight="normal" fill="#000" textLength="77" lengthAdjust="spacingAndGlyphs" stroke="#000" stroke-width="0.9">02:00</text>
<text x="242.5" y="1125.4" font-family='"Liberation Sans", sans-serif' font-size="44.5" font-weight="bold" fill="#000" textLength="449" lengthAdjust="spacingAndGlyphs">Growth time (hh:mm)</text>
<text transform="translate(56.2,763.5) rotate(-90)" font-family='"Liberation Sans", sans-serif' font-size="44.6" font-weight="bold" fill="#000" textLength="393.5" lengthAdjust="spacingAndGlyphs">Reflectance signals</text>
<text transform="translate(136.5,372) rotate(-90)" font-family='"Liberation Sans", sans-serif' font-size="32.5" font-weight="normal" fill="#000" textLength="147.4" lengthAdjust="spacingAndGlyphs" stroke="#000" stroke-width="1.1">@950 nm</text>
<text transform="translate(132.6,682.7) rotate(-90)" font-family='"Liberation Sans", sans-serif' font-size="32.5" font-weight="normal" fill="#000" textLength="148.2" lengthAdjust="spacingAndGlyphs" stroke="#000" stroke-width="1.1">@632 nm</text>
<text transform="translate(132.6,993.4) rotate(-90)" font-family='"Liberation Sans", sans-serif' font-size="32.5" font-weight="normal" fill="#000" textLength="149.6" lengthAdjust="spacingAndGlyphs" stroke="#000" stroke-width="1.1">@405 nm</text>
<rect x="409.8" y="165.3" width="38.6" height="9.2" fill="#28288a"/>
<rect x="409.8" y="206.7" width="38.6" height="8.4" fill="#ff0000"/>
<text x="453.5" y="178.7" font-family='"Liberation Serif", serif' font-size="33" font-weight="normal" fill="#000">:</text>
<text x="471.5" y="178.7" font-family='"Liberation Serif", serif' font-size="33" font-weight="normal" fill="#25257f" textLength="93.3" lengthAdjust="spacingAndGlyphs">InPoSi</text>
<text x="453.5" y="220" font-family='"Liberation Serif", serif' font-size="33" font-weight="normal" fill="#ff0000">:</text>
<text x="471.5" y="220" font-family='"Liberation Serif", serif' font-size="33" font-weight="normal" fill="#ff0000" textLength="46.3" lengthAdjust="spacingAndGlyphs">InP</text>
<text transform="translate(267.5,92.5) rotate(-37)" font-family='"Liberation Serif", serif' font-size="30" fill="#25257f" textLength="65" lengthAdjust="spacingAndGlyphs">InP:n</text>
<text transform="translate(296.5,113.5) rotate(-37)" font-family='"Liberation Serif", serif' font-size="30" fill="#25257f" textLength="80" lengthAdjust="spacingAndGlyphs">MQW</text>
<text transform="translate(674.8,105) rotate(-37)" font-family='"Liberation Serif", serif' font-size="30" fill="#25257f" textLength="123" lengthAdjust="spacingAndGlyphs">InGaAs:p</text>
<text transform="translate(489,296.5) rotate(-39.5)" font-family='"Liberation Serif", serif' font-size="30" fill="#25257f" textLength="68" lengthAdjust="spacingAndGlyphs">InP:p</text>
<line x1="259.8" y1="103.1" x2="250.4" y2="127.6" stroke="#25257f" stroke-width="2.6"/>
<polygon points="244.6,142.5 242.7,122.5 259.5,128.9" fill="#25257f"/>
<line x1="279.6" y1="118.3" x2="271.6" y2="137.1" stroke="#25257f" stroke-width="2.6"/>
<polygon points="265.4,151.8 264.1,131.7 280.7,138.7" fill="#25257f"/>
<line x1="669.3" y1="105" x2="661" y2="123.5" stroke="#25257f" stroke-width="3"/>
<polygon points="654.4,138.1 653.6,118 670,125.4" fill="#25257f"/>
<polygon points="964.2,350.8 1056.7,259.8 1056.7,284.5 964.2,375.5" fill="#0064a8" stroke="#0064a8" stroke-width="0.7"/>
<polygon points="964.2,375.5 1056.7,284.5 1056.7,436.7 964.2,527.7" fill="#003f05" stroke="#003f05" stroke-width="0.7"/>
<polygon points="964.2,527.7 1056.7,436.7 1056.7,495.6 964.2,586.6" fill="#62002a" stroke="#62002a" stroke-width="0.7"/>
<polygon points="964.2,586.6 1056.7,495.6 1056.7,582 964.2,673" fill="#003f05" stroke="#003f05" stroke-width="0.7"/>
<polygon points="756.1,350.8 964.2,350.8 1056.7,259.8 848.6,259.8" fill="#008cd0" stroke="#008cd0" stroke-width="0.7"/>
<rect x="756.1" y="350.8" width="208.1" height="25" fill="#0074c6"/>
<rect x="756.1" y="375.5" width="208.1" height="152.5" fill="#005109"/>
<rect x="756.1" y="527.7" width="208.1" height="59.2" fill="#760032"/>
<rect x="756.1" y="586.6" width="208.1" height="86.7" fill="#005109"/>
<line x1="756.1" y1="538.3" x2="964.2" y2="538.3" stroke="#b0507a" stroke-width="0.8"/>
<line x1="756.1" y1="576.4" x2="964.2" y2="576.4" stroke="#b0507a" stroke-width="0.8"/>
<line x1="964.2" y1="538.3" x2="1056.7" y2="447.3" stroke="#a8306a" stroke-width="1.0"/>
<line x1="964.2" y1="576.4" x2="1056.7" y2="485.4" stroke="#a8507a" stroke-width="1.0"/>
<line x1="964.2" y1="531" x2="1056.7" y2="440" stroke="#80104a" stroke-width="0.8"/>
<line x1="964.2" y1="547" x2="1056.7" y2="456" stroke="#7a0a44" stroke-width="0.8"/>
<line x1="964.2" y1="556" x2="1056.7" y2="465" stroke="#88144e" stroke-width="0.8"/>
<line x1="964.2" y1="566" x2="1056.7" y2="475" stroke="#7a0a44" stroke-width="0.8"/>
<line x1="964.2" y1="629" x2="1056.7" y2="538" stroke="#1a6a2a" stroke-width="0.8"/>
<polygon points="1307.7,338 1400.2,246 1400.2,270.8 1307.7,362.8" fill="#0064a8" stroke="#0064a8" stroke-width="0.7"/>
<polygon points="1307.7,362.8 1400.2,270.8 1400.2,422.2 1307.7,514.2" fill="#003f05" stroke="#003f05" stroke-width="0.7"/>
<polygon points="1307.7,514.2 1400.2,422.2 1400.2,480.4 1307.7,572.4" fill="#62002a" stroke="#62002a" stroke-width="0.7"/>
<polygon points="1307.7,572.4 1400.2,480.4 1400.2,528.4 1307.7,620.4" fill="#003f05" stroke="#003f05" stroke-width="0.7"/>
<polygon points="1307.7,620.4 1400.2,528.4 1400.2,544.1 1307.7,636.1" fill="#c87400" stroke="#c87400" stroke-width="0.7"/>
<polygon points="1307.7,636.1 1400.2,544.1 1400.2,587.4 1307.7,679.4" fill="#dfa650" stroke="#dfa650" stroke-width="0.7"/>
<polygon points="1101.3,338 1307.7,338 1400.2,246 1193.8,246" fill="#008cd0" stroke="#008cd0" stroke-width="0.7"/>
<rect x="1101.3" y="338" width="206.4" height="25.1" fill="#0074c6"/>
<rect x="1101.3" y="362.8" width="206.4" height="151.7" fill="#005109"/>
<rect x="1101.3" y="514.2" width="206.4" height="58.5" fill="#760032"/>
<rect x="1101.3" y="572.4" width="206.4" height="48.3" fill="#005109"/>
<rect x="1101.3" y="620.4" width="206.4" height="16" fill="#f39200"/>
<rect x="1101.3" y="636.1" width="206.4" height="43.6" fill="#fdd276"/>
<line x1="1101.3" y1="524.2" x2="1307.7" y2="524.2" stroke="#b0507a" stroke-width="0.8"/>
<line x1="1101.3" y1="549.6" x2="1307.7" y2="549.6" stroke="#b0507a" stroke-width="0.8"/>
<line x1="1101.3" y1="561.4" x2="1307.7" y2="561.4" stroke="#b0507a" stroke-width="0.8"/>
<line x1="1307.7" y1="524.2" x2="1400.2" y2="432.2" stroke="#a8306a" stroke-width="1.0"/>
<line x1="1307.7" y1="549.6" x2="1400.2" y2="457.6" stroke="#a8507a" stroke-width="1.0"/>
<line x1="1307.7" y1="561.4" x2="1400.2" y2="469.4" stroke="#a8306a" stroke-width="0.9"/>
<line x1="1307.7" y1="518" x2="1400.2" y2="426" stroke="#80104a" stroke-width="0.8"/>
<line x1="1307.7" y1="534" x2="1400.2" y2="442" stroke="#7a0a44" stroke-width="0.8"/>
<line x1="1307.7" y1="542" x2="1400.2" y2="450" stroke="#88144e" stroke-width="0.8"/>
<polygon points="745.9,613.3 745.9,394.5 727.6,394.5 763.2,358.4 798,394.5 780.9,394.5 780.9,613.3" fill="#e00000"/>
<polygon points="1091.5,590.9 1091.5,373.4 1073.8,373.4 1109.5,338 1146.5,373.4 1128.8,373.4 1128.8,590.9" fill="#e00000"/>
<text transform="translate(772.4,574.3) rotate(-90)" font-family='"Liberation Serif", serif' font-size="33" font-weight="normal" fill="#fff" textLength="146.5" lengthAdjust="spacingAndGlyphs">3 &#956;m thick</text>
<text transform="translate(1119,566.3) rotate(-90)" font-family='"Liberation Serif", serif' font-size="33" font-weight="normal" fill="#fff" textLength="143.5" lengthAdjust="spacingAndGlyphs">3 &#956;m thick</text>
<text x="808.5" y="364.1" font-family='"Liberation Serif", serif' font-size="25" font-weight="normal" fill="#f4f4f4" textLength="99" lengthAdjust="spacingAndGlyphs">InGaAs:p</text>
<text x="834" y="457.3" font-family='"Liberation Serif", serif' font-size="25" font-weight="normal" fill="#f4f4f4" textLength="55" lengthAdjust="spacingAndGlyphs">InP:p</text>
<text x="830.3" y="563.8" font-family='"Liberation Serif", serif' font-size="25" font-weight="normal" fill="#f4f4f4" textLength="66.6" lengthAdjust="spacingAndGlyphs">MQW</text>
<text x="834" y="619" font-family='"Liberation Serif", serif' font-size="25" font-weight="normal" fill="#f4f4f4" textLength="55" lengthAdjust="spacingAndGlyphs">InP:n</text>
<text x="782.8" y="662.7" font-family='"Liberation Serif", serif' font-size="25" font-weight="normal" fill="#f4f4f4" textLength="148" lengthAdjust="spacingAndGlyphs">InP substrate</text>
<text x="1154.4" y="350.2" font-family='"Liberation Serif", serif' font-size="25" font-weight="normal" fill="#f4f4f4" textLength="96.3" lengthAdjust="spacingAndGlyphs">InGaAs:p</text>
<text x="1168" y="447.3" font-family='"Liberation Serif", serif' font-size="25" font-weight="normal" fill="#f4f4f4" textLength="55" lengthAdjust="spacingAndGlyphs">InP:p</text>
<text x="1166" y="551.6" font-family='"Liberation Serif", serif' font-size="25" font-weight="normal" fill="#f4f4f4" textLength="65" lengthAdjust="spacingAndGlyphs">MQW</text>
<text x="1176" y="600.7" font-family='"Liberation Serif", serif' font-size="25" font-weight="normal" fill="#f4f4f4" textLength="55" lengthAdjust="spacingAndGlyphs">InP:n</text>
<text x="1183.5" y="637" font-family='"Liberation Serif", serif' font-size="19.5" font-weight="normal" fill="#1a1208">SiO<tspan font-size="14" dy="1">2</tspan></text>
<text x="1142.6" y="664.4" font-family='"Liberation Serif", serif' font-size="25" font-weight="normal" fill="#111" textLength="131.7" lengthAdjust="spacingAndGlyphs">Si substrate</text>
<path d="M861.9 735.8h5M1335.7 735.8h-5M861.9 752h9M1335.7 752h-9M861.9 768.2h5M1335.7 768.2h-5M861.9 784.5h9M1335.7 784.5h-9M861.9 800.8h5M1335.7 800.8h-5M861.9 817h9M1335.7 817h-9M861.9 833.2h5M1335.7 833.2h-5M861.9 849.5h9M1335.7 849.5h-9M861.9 865.8h5M1335.7 865.8h-5M861.9 882h9M1335.7 882h-9M861.9 898.2h5M1335.7 898.2h-5M861.9 914.5h9M1335.7 914.5h-9M861.9 930.8h5M1335.7 930.8h-5M861.9 947h9M1335.7 947h-9M861.9 963.2h5M1335.7 963.2h-5M861.9 979.5h9M1335.7 979.5h-9M861.9 995.8h5M1335.7 995.8h-5M861.9 1012h9M1335.7 1012h-9M861.9 1028.2h5M1335.7 1028.2h-5M887.6 1039v-7M1020.2 1039v-7M1154 1039v-7M1264.3 1039v-7" stroke="#383838" stroke-width="2" fill="none"/>
<polyline points="861.9,727 861.9,1039 1335.7,1039 1335.7,727" fill="none" stroke="#383838" stroke-width="2"/>
<line x1="860.9" y1="727" x2="1336.5" y2="721" stroke="#000" stroke-width="3"/>
<polyline points="866.4,939.2 867.4,939.2 868.4,938.5 869.5,938.1 870.5,938.7 871.5,939.7 872.5,939.2 873.6,939.2 874.6,939.6 875.6,938.8 876.6,939.2 877.7,939.9 878.7,938.6 879.7,940 880.8,938.5 881.8,939.6 882.8,939.7 883.8,938.9 884.9,940.6 885.9,939.7 886.9,939.3 887.9,939.8 889,940.2 890,940 891,939.2 892.1,939.9 893.2,941.7 894.3,941.1 895.4,941.9 896.5,943.5 897.5,943.5 898.5,943.5 899.6,942 900.6,941.5 901.6,943 902.6,942.6 903.6,942 904.7,941.2 905.7,941.9 906.7,941.5 907.7,942.1 908.7,942.8 909.8,941.1 910.8,940.8 911.8,941.9 912.8,940.7 913.9,940.8 914.9,941.1 915.9,942.1 916.9,940.7 917.9,940.6 919,940.8 920,940.1 921,940.5 922,941 923,940.2 924.1,941 925.1,939.7 926.1,939.5 927.1,940.4 928.1,940 929.2,940.8 930.2,939.1 931.2,940.3 932.2,940.1 933.2,939.5 934.2,939 935.2,939.9 936.3,940.2 937.3,939.6 938.3,939.6 939.3,939.9 940.3,939.8 941.3,939.4 942.3,938.9 943.3,939.4 944.3,939.5 945.4,940.2 946.4,940.4 947.4,939.5 948.4,939 949.4,938.7 950.4,939.9 951.5,940.4 952.5,939.7 953.6,940.9 954.6,941.8 955.7,940.9 956.7,942.3 957.7,941.6 958.8,942.3 959.8,943 960.9,942 961.9,942.6 963,944.2 964,942.6 965,943.4 966.1,944.1 967.1,944.9 968.2,945 969.2,945.9 970.3,945.6 971.3,944.6 972.3,944.7 973.3,944.6 974.4,945.3 975.4,944.4 976.4,945.4 977.4,945.5 978.5,944.6 979.5,945.9 980.5,944.9 981.5,946 982.5,944.7 983.6,945.2 984.6,945 985.6,944.3 986.6,945.3 987.6,943.7 988.7,944.1 989.7,944.2 990.7,945.3 991.7,944.5 992.8,943.5 993.8,944 994.8,944.5 995.8,944.9 996.8,943.4 997.9,944.7 998.9,943.9 999.9,944.1 1000.9,943.8 1002,943.8 1003,944.8 1004,944.6 1005,944.4 1006,943.8 1007,943.4 1008,942.1 1009,941.6 1010,942.9 1011,942.4 1012,942 1013,941.1 1014,940.8 1015,941.8 1016,941.1 1017,940.2 1018.1,940.9 1019.1,941 1020.1,940.5 1021.1,942.4 1022.1,942.3 1023.2,942.2 1024.2,940.7 1025.2,941.6 1026.2,941.1 1027.2,942.4 1028.3,942.6 1029.3,942.6 1030.3,942.7 1031.3,941.5 1032.3,941.3 1033.4,941.6 1034.4,943.1 1035.4,943.2 1036.4,942.6 1037.4,942.1 1038.5,943.5 1039.5,942.1 1040.5,942.5 1041.5,942.6 1042.5,945.3 1043.6,944.9 1044.6,946.3 1045.6,947.1 1046.6,947.3 1047.7,948.9 1048.7,949.1 1049.7,950.2 1050.7,950.1 1051.7,948.3 1052.7,949.5 1053.7,948.4 1054.8,948.4 1055.8,948.4 1056.8,949.6 1057.8,947.6 1058.8,948.3 1059.8,947.7 1060.8,949.5 1061.8,948.5 1062.8,948.9 1063.9,948.6 1064.9,949.1 1065.9,948.3 1066.9,948.4 1067.9,949.1 1068.9,949.1 1069.9,949.5 1070.9,948.4 1071.9,949.5 1073,949.3 1074,949 1075,948.7 1076,949 1077,948.1 1078,948.1 1079.1,948.5 1080.1,948.1 1081.1,947.9 1082.1,949.2 1083.2,949.3 1084.2,949 1085.2,948.2 1086.2,949.2 1087.3,949.4 1088.3,948.9 1089.3,948.1 1090.3,948.8 1091.4,948.4 1092.4,948.2 1093.4,947.9 1094.4,949.3 1095.5,948.9 1096.5,949.4 1097.5,947.9 1098.5,948.1 1099.6,948.5 1100.6,947.6 1101.6,948.1 1102.6,948.5 1103.6,948.3 1104.6,949.1 1105.6,948.4 1106.6,948.5 1107.6,948.3 1108.6,948.7 1109.6,947.8 1110.6,947 1111.6,948.9 1112.6,948.5 1113.6,947.1 1114.6,947.1 1115.6,947.2 1116.6,948 1117.6,946.9 1118.6,946.7 1119.6,947.6 1120.6,946.6 1121.6,947 1122.6,947.2 1123.6,946.8 1124.6,946.4 1125.6,946.8 1126.6,946.7 1127.6,946.9 1128.6,947 1129.6,946.8 1130.6,946.7 1131.6,946.1 1132.6,947.6 1133.6,947.4 1134.6,946.9 1135.6,945.8 1136.6,946.2 1137.6,947.5 1138.6,946.6 1139.6,946 1140.6,947.2 1141.6,947.3 1142.6,945.7 1143.6,946.4 1144.6,946.5 1145.6,945.6 1146.6,945.9 1147.6,946.5 1148.6,946.5 1149.6,946.4 1150.6,946.3 1151.6,945.8 1152.6,945.1 1153.6,945 1154.6,946.6 1155.6,946.6 1156.6,946.6 1157.6,944.9 1158.6,946.3 1159.6,945 1160.6,945.3 1161.6,945 1162.6,946.2 1163.6,946.1 1164.6,946.1 1165.6,945.1 1166.6,946.2 1167.6,944.8 1168.6,945.4 1169.6,945.5 1170.6,944.6 1171.6,944.9 1172.6,944.2 1173.6,945.6 1174.6,944.3 1175.6,944.2 1176.6,944.4 1177.6,945.1 1178.6,945 1179.6,944.8 1180.6,945.4 1181.6,945.1 1182.6,944 1183.6,944.6 1184.6,943.8 1185.6,943.9 1186.6,943.7 1187.6,943.5 1188.6,944 1189.6,945 1190.6,944.5 1191.6,943.3 1192.6,943.5 1193.6,944.2 1194.6,944 1195.6,943 1196.6,943.1 1197.6,944 1198.6,944 1199.6,942.9 1200.6,944.2 1201.6,943.1 1202.6,943.8 1203.6,943.7 1204.6,943.2 1205.6,944.4 1206.6,943.3 1207.7,943.3 1208.7,943.5 1209.7,944.1 1210.7,944.3 1211.7,943.8 1212.7,943.4 1213.7,943.7 1214.7,943.5 1215.7,944.1 1216.7,944.1 1217.7,943.6 1218.8,942.5 1219.8,943.2 1220.8,942.9 1221.8,942.4 1222.8,943.5 1223.8,942.3 1224.8,943.3 1225.8,942.8 1226.8,942.6 1227.8,943.2 1228.8,943.2 1229.8,943.7 1230.8,943.6 1231.9,943.2 1232.9,942.1 1233.9,942.9 1234.9,942.5 1235.9,943.3 1236.9,942.3 1237.9,942.1 1238.9,941.4 1239.9,942.3 1240.9,942.3 1241.9,941.9 1243,941.4 1244,942.1 1245,941.3 1246,941.4 1247,942 1248,941.7 1249,942 1250,942.1 1251,941.9 1252,941.4 1253,941.3 1254.1,942.4 1255.1,943.3 1256.1,942 1257.1,942.2 1258.1,942.1 1259.1,943 1260.1,942.6 1261.2,943.3 1262.2,941.7 1263.2,942.1 1264.2,942.3 1265.2,942.6 1266.3,943.8 1267.5,944.8 1268.6,947.1 1269.7,947.1 1270.9,948.5 1272,950.3 1273,951.3 1274,952.8 1275,954.9 1276,953.8 1277,953.1 1278,954.9 1279,953.9 1280,954 1281,952.9 1282,954.1 1283,953.3 1284,953.8 1285,953 1286,956.2 1287,957.1 1288,958.9 1289,961.3 1290,945 1291,940 1292,935 1293,930 1294.3,913.3 1295.5,896.7 1296.8,880 1297.9,870 1298.9,860 1300,850 1301.2,841.3 1302.5,832.7 1303.7,824 1304.8,818 1306,812 1307,809 1308,806 1309.3,804.5 1310.6,803 1312,827.6 1313,827.9 1314,831.1 1315,830.9 1316,831.9 1317,832 1318,835.8 1319,837.7 1320,834.3 1321,834.7 1322,835.1 1323,836.9 1324,839.2 1325,842 1326,850.6 1327,846.4 1328,846.3 1329,843.4 1330,843.6 1331,849.4 1332,856 1333,851.6 1334,849 1335.5,850.2" fill="none" stroke="#ff0000" stroke-width="2.4" stroke-linejoin="round"/>
<polyline points="862,896.4 863,897 864,896.8 865,896.6 866,896.8 867,896.2 868,896.1 869,896 870,895.7 871,896.9 872,894.6 873,894.2 874,895.7 875,894.7 876,894.8 877,895.1 878,894.5 879,894.1 880,893.6 881,895.6 882,895.7 883,894.5 884,895.4 885,895.5 886,895.2 887,897.7 888,898 889,897 890,897.4 891,899 892.1,899.8 893.1,899.6 894.1,899.9 895.1,900.1 896.2,902 897.2,902.7 898.2,903.2 899.3,902 900.3,903.7 901.3,905.2 902.4,905.1 903.4,905 904.4,904.8 905.4,905.2 906.5,907.3 907.5,906.3 908.5,908.3 909.6,908.1 910.6,907.9 911.7,909.1 912.7,909.5 913.8,908.9 914.8,907.9 915.8,909.3 916.9,909.1 917.9,908.9 919,910.8 920,910.6 921,909.3 922,909.7 923.1,910.1 924.1,910.9 925.1,910.4 926.1,910.9 927.1,912 928.1,910.6 929.2,912.1 930.2,911.3 931.2,913 932.2,912.9 933.2,911.3 934.2,911.8 935.2,910.5 936.3,911.2 937.3,911.6 938.3,911.5 939.3,910.7 940.3,909.8 941.3,909.9 942.3,910.9 943.3,909.8 944.3,910.1 945.4,910.7 946.4,911.3 947.4,910.2 948.4,909.5 949.4,910.2 950.4,910.2 951.4,912.1 952.4,911.3 953.4,912.3 954.5,913.5 955.5,915.3 956.5,914.3 957.5,915 958.5,915.6 959.5,917.4 960.6,919.2 961.6,920.9 962.7,923.4 963.7,924.1 964.8,925.8 965.8,927.2 966.8,928.2 967.8,928.7 968.9,927.8 969.9,929.1 970.9,927.7 971.9,929.6 973,928.7 974,929.3 975,928.7 976.1,928.5 977.2,928.2 978.2,930 979.3,928.8 980.4,929.7 981.5,930.9 982.6,932.9 983.7,934 984.8,935.7 985.9,937.9 986.9,938.2 987.9,937.4 988.9,935.6 989.9,936.8 991,935.6 992,934.3 993,934.2 994,933.6 995,934.6 996,934 997.1,933.5 998.1,933.4 999.1,933.6 1000.2,933.6 1001.2,933.8 1002.2,934.9 1003.3,935 1004.3,934.9 1005.4,935.4 1006.4,934.9 1007.4,933.6 1008.5,933.5 1009.5,933.9 1010.6,934 1011.6,934.5 1012.7,935 1013.8,934.3 1014.8,933.8 1015.9,933.2 1017,934.8 1018,934.1 1019.1,933 1020.2,932.1 1021.2,934.2 1022.3,932.3 1023.3,934.1 1024.3,932.8 1025.3,934.5 1026.3,934.2 1027.4,935.9 1028.4,934.8 1029.4,934.8 1030.4,935.4 1031.4,937.3 1032.4,938.1 1033.4,937.7 1034.4,938.2 1035.4,937.6 1036.5,938 1037.5,938 1038.5,940.6 1039.5,938.7 1040.5,940.5 1041.5,940.1 1042.5,939.9 1043.5,940.8 1044.6,942.2 1045.6,940.8 1046.6,940.9 1047.6,942.3 1048.6,942.6 1049.7,942.5 1050.7,941.9 1051.7,943.8 1052.7,942.3 1053.7,942.7 1054.7,943.1 1055.8,944 1056.8,944.1 1057.8,944.6 1058.8,945.2 1059.8,945.9 1060.8,945.1 1061.8,944.4 1062.8,946.5 1063.9,944.8 1064.9,945.8 1065.9,945.6 1066.9,947 1067.9,947.7 1068.9,946.4 1069.9,947 1070.9,948.6 1071.9,948.5 1073,947.3 1074,949 1075,949.5 1076,948.8 1077,948.5 1078,949.9 1079,949.3 1080,949 1081,949.3 1082.1,950.1 1083.1,949.6 1084.1,950.4 1085.1,951 1086.1,951.2 1087.1,951.1 1088.1,952.2 1089.1,950.7 1090.1,951.5 1091.2,953.1 1092.2,953.2 1093.2,953.5 1094.2,953.3 1095.2,953 1096.4,953.7 1097.6,953.3 1098.8,952.3 1100,952.7 1101,952.6 1102,954.7 1103,953.7 1104,954.1 1105,954.7 1106,953.9 1107,955.6 1108,956.1 1109,956.3 1110,956.8 1111,955.7 1112,955.6 1113,957.3 1114,957.4 1115,956.9 1116,957.1 1117,956.9 1118,958.7 1119,958.1 1120,959.2 1121,958.3 1122,958.6 1123,959.3 1124,960.1 1125,960.7 1126,959.7 1127,960.7 1128,960.3 1129,961.6 1130,961.7 1131,961.4 1132,961.2 1133,961.3 1134,963 1135,963 1136,962.1 1137,961.8 1138,962.4 1139,964.5 1140,962.5 1141,964.6 1142,964.2 1143,964.5 1144,964.7 1145,964.7 1146,965.3 1147,964.4 1148,966.7 1149,965 1150,965.3 1151,966.8 1152,967 1153,967.7 1154,967.7 1155,968.5 1156,966.6 1157,966.8 1158,967.6 1159,969.2 1160,967.9 1161,969.1 1162,969.9 1163,968.7 1164,969.8 1165,971 1166,970.9 1167,970.3 1168,970.8 1169,970.5 1170,972.4 1171,972.3 1172,972.3 1173,971.6 1174,972.9 1175,972.6 1176,973.6 1177,972.8 1178,974.3 1179,974.1 1180,973.8 1181,974.3 1182,975.1 1183,974.7 1184,976 1185,974 1186,976.4 1187,976.2 1188,975.9 1189,977 1190,975.6 1191,976.3 1192,977.5 1193,978 1194,977.2 1195,978.9 1196,978.4 1197,977.2 1198,977.6 1199,977.8 1200,979.2 1201,978.9 1202,979 1203,979.7 1204,979 1205,981.3 1206,981.4 1207,981 1208,980.9 1209,980.9 1210,981.8 1211,981.5 1212,983.3 1213,983.5 1214,983.2 1215,983.7 1216,982.1 1217,982.5 1218,983.3 1219,983 1220,984 1221,985.6 1222,985.5 1223,986 1224,984.5 1225,984.8 1226,984.6 1227,985.4 1228,985.2 1229,986.5 1230,986.3 1231,987.4 1232,987.4 1233,987.7 1234,987.3 1235,988.6 1236,988.7 1237,989 1238,988.7 1239,989 1240,988.8 1241,988.5 1242,989.7 1243,990.4 1244,989.6 1245,991.5 1246,991.8 1247,992 1248,992.1 1249,991.6 1250,991.1 1251,991.6 1252,993 1253,993.8 1254,992 1255,992 1256,993.1 1257,993.3 1258,994.2 1259,993.3 1260,995.3 1261,994.3 1262,995.9 1263,994.8 1264,995 1265,995 1266,994.6 1267,991.5 1268,989.8 1269,988.2 1270,989.6 1271,990.3 1272,991.2 1273,991.3 1274,989.6 1275,990.5 1276,992.3 1277,991.4 1278,992.7 1279,991.2 1280,990.9 1281,993.4 1282,992 1283,993 1284,992.8 1285,993.6 1286,994.7 1287.3,995.5 1288.5,996.1 1289.8,996 1290.2,1011.4 1290.6,990 1291,978 1292.4,975 1293,952.6 1294,938.4 1295,924.2 1296,910 1297,902.5 1298.1,895 1299.2,887.5 1300.2,880 1301.6,865 1303,850 1304.1,841.1 1305.2,832.1 1306.3,823.2 1307.2,808.5 1309,811 1310.2,814.6 1311.5,812.7 1312.8,816 1314,819.8 1315.2,817.4 1316.3,818.1 1317.5,819.3 1318.4,827.3 1320,826.8 1321.9,832.5 1323.6,821.6 1325,827.7 1326,824.6 1327,827.5 1328,824.7 1329,822.6 1330.5,821.5 1332,829 1333,828.7 1334,827.8 1335,829.6" fill="none" stroke="#0000c0" stroke-width="2.6" stroke-linejoin="round"/>
<line x1="882" y1="892.5" x2="1283.5" y2="892.5" stroke="#0a246e" stroke-width="5.5" stroke-dasharray="17.5 14.4"/>
<line x1="886.5" y1="1002.5" x2="1288.5" y2="1002.5" stroke="#0a246e" stroke-width="5.5" stroke-dasharray="17.3 14.6"/>
<rect x="1302" y="1000" width="2.5" height="5" fill="#0a246e"/>
<line x1="882" y1="895.8" x2="1289" y2="1000.4" stroke="#0a246e" stroke-width="5.2"/>
<text x="1081.3" y="934" font-family='"Liberation Serif", serif' font-size="38" font-weight="bold" fill="#0a246e" textLength="106.4" lengthAdjust="spacingAndGlyphs">&#8722;15.8</text>
<text x="1211.1" y="934" font-family='"Liberation Sans", sans-serif' font-size="35" font-weight="bold" fill="#0a246e" textLength="50" lengthAdjust="spacingAndGlyphs">km</text>
<text x="1264.4" y="922" font-family='"Liberation Sans", sans-serif' font-size="21" font-weight="bold" fill="#0a246e" textLength="19.3" lengthAdjust="spacingAndGlyphs">-1</text>
<rect x="1132" y="764.6" width="37.9" height="8.9" fill="#28288a"/>
<rect x="1132" y="806.9" width="37.9" height="8.8" fill="#ff0000"/>
<text x="1174.5" y="777.9" font-family='"Liberation Serif", serif' font-size="33" font-weight="normal" fill="#000">:</text>
<text x="1192.6" y="777.9" font-family='"Liberation Serif", serif' font-size="33" font-weight="normal" fill="#25257f" textLength="93.4" lengthAdjust="spacingAndGlyphs">InPoSi</text>
<text x="1174.5" y="818.9" font-family='"Liberation Serif", serif' font-size="33" font-weight="normal" fill="#ff0000">:</text>
<text x="1192.6" y="818.9" font-family='"Liberation Serif", serif' font-size="33" font-weight="normal" fill="#ff0000" textLength="46.7" lengthAdjust="spacingAndGlyphs">InP</text>
<text x="849.5" y="757.5" font-family='"Liberation Sans", sans-serif' font-size="26.8" font-weight="normal" fill="#000" textLength="34.5" lengthAdjust="spacingAndGlyphs" text-anchor="end" stroke="#000" stroke-width="1.1">20</text>
<text x="849.5" y="790" font-family='"Liberation Sans", sans-serif' font-size="26.8" font-weight="normal" fill="#000" textLength="34.5" lengthAdjust="spacingAndGlyphs" text-anchor="end" stroke="#000" stroke-width="1.1">15</text>
<text x="849.5" y="822.5" font-family='"Liberation Sans", sans-serif' font-size="26.8" font-weight="normal" fill="#000" textLength="34.5" lengthAdjust="spacingAndGlyphs" text-anchor="end" stroke="#000" stroke-width="1.1">10</text>
<text x="849.5" y="855" font-family='"Liberation Sans", sans-serif' font-size="26.8" font-weight="normal" fill="#000" textLength="16.5" lengthAdjust="spacingAndGlyphs" text-anchor="end" stroke="#000" stroke-width="1.1">5</text>
<text x="849.5" y="887.5" font-family='"Liberation Sans", sans-serif' font-size="26.8" font-weight="normal" fill="#000" textLength="16.5" lengthAdjust="spacingAndGlyphs" text-anchor="end" stroke="#000" stroke-width="1.1">0</text>
<text x="849.5" y="920" font-family='"Liberation Sans", sans-serif' font-size="26.8" font-weight="normal" fill="#000" textLength="34.5" lengthAdjust="spacingAndGlyphs" text-anchor="end" stroke="#000" stroke-width="1.1">-5</text>
<text x="849.5" y="952.5" font-family='"Liberation Sans", sans-serif' font-size="26.8" font-weight="normal" fill="#000" textLength="47.5" lengthAdjust="spacingAndGlyphs" text-anchor="end" stroke="#000" stroke-width="1.1">-10</text>
<text x="849.5" y="985" font-family='"Liberation Sans", sans-serif' font-size="26.8" font-weight="normal" fill="#000" textLength="47.5" lengthAdjust="spacingAndGlyphs" text-anchor="end" stroke="#000" stroke-width="1.1">-15</text>
<text x="849.5" y="1017.5" font-family='"Liberation Sans", sans-serif' font-size="26.8" font-weight="normal" fill="#000" textLength="47.5" lengthAdjust="spacingAndGlyphs" text-anchor="end" stroke="#000" stroke-width="1.1">-20</text>
<text x="847.6" y="1072.3" font-family='"Liberation Sans", sans-serif' font-size="30" font-weight="normal" fill="#000" textLength="77.5" lengthAdjust="spacingAndGlyphs" stroke="#000" stroke-width="0.9">00:30</text>
<text x="981" y="1072.3" font-family='"Liberation Sans", sans-serif' font-size="30" font-weight="normal" fill="#000" textLength="76" lengthAdjust="spacingAndGlyphs" stroke="#000" stroke-width="0.9">01:00</text>
<text x="1114.2" y="1072.3" font-family='"Liberation Sans", sans-serif' font-size="30" font-weight="normal" fill="#000" textLength="76" lengthAdjust="spacingAndGlyphs" stroke="#000" stroke-width="0.9">01:30</text>
<text x="1224.7" y="1070.6" font-family='"Liberation Sans", sans-serif' font-size="30" font-weight="normal" fill="#000" textLength="74.5" lengthAdjust="spacingAndGlyphs" stroke="#000" stroke-width="0.9">02:00</text>
<text x="879.3" y="1124.9" font-family='"Liberation Sans", sans-serif' font-size="44.5" font-weight="bold" fill="#000" textLength="447.5" lengthAdjust="spacingAndGlyphs">Growth time (hh:mm)</text>
<text transform="translate(778.7,1010.2) rotate(-90)" font-family='"Liberation Sans", sans-serif' font-size="34.4" font-weight="bold" fill="#000" textLength="239" lengthAdjust="spacingAndGlyphs">Curvature (km</text>
<text transform="translate(778.7,760) rotate(-90)" font-family='"Liberation Sans", sans-serif' font-size="34.4" font-weight="bold" fill="#000" textLength="11" lengthAdjust="spacingAndGlyphs">)</text>
<text transform="translate(758.8,777.6) rotate(-90)" font-family='"Liberation Sans", sans-serif' font-size="17" font-weight="bold" fill="#000" textLength="13.8" lengthAdjust="spacingAndGlyphs">-1</text>
</svg></body></html>
